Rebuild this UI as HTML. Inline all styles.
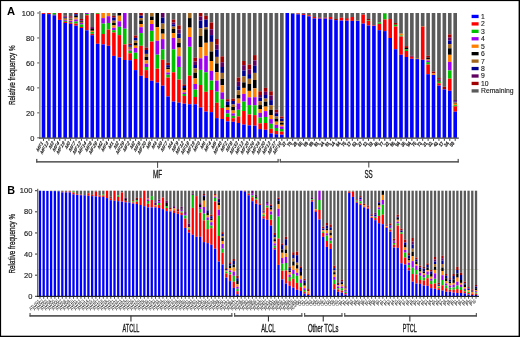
<!DOCTYPE html>
<html><head><meta charset="utf-8"><style>
html,body{margin:0;padding:0;background:#fff;}
body{width:520px;height:337px;overflow:hidden;}
svg{display:block;font-family:"Liberation Sans", sans-serif;}
</style></head><body>
<svg style="will-change:transform" width="520" height="337" viewBox="0 0 520 337">
<rect x="0" y="0" width="520" height="337" fill="#fff"/>
<text x="7.00" y="15.20" font-size="11.2" font-weight="bold" text-anchor="start" fill="#000" >A</text>
<text transform="translate(14.8,75.2) rotate(-90) scale(0.67,1)" font-size="9.4" text-anchor="middle" fill="#1a1a1a" stroke="#1a1a1a" stroke-width="0.3">Relative frequency %</text>
<text transform="translate(34.40,140.60) scale(0.94,1)" x="0" y="0" font-size="8.0" font-weight="normal" text-anchor="end" fill="#1a1a1a" stroke="#1a1a1a" stroke-width="0.15">0</text>
<rect x="37.2" y="137.30" width="2.3" height="1" fill="#555"/>
<text transform="translate(34.40,115.64) scale(0.94,1)" x="0" y="0" font-size="8.0" font-weight="normal" text-anchor="end" fill="#1a1a1a" stroke="#1a1a1a" stroke-width="0.15">20</text>
<rect x="37.2" y="112.34" width="2.3" height="1" fill="#555"/>
<text transform="translate(34.40,90.68) scale(0.94,1)" x="0" y="0" font-size="8.0" font-weight="normal" text-anchor="end" fill="#1a1a1a" stroke="#1a1a1a" stroke-width="0.15">40</text>
<rect x="37.2" y="87.38" width="2.3" height="1" fill="#555"/>
<text transform="translate(34.40,65.72) scale(0.94,1)" x="0" y="0" font-size="8.0" font-weight="normal" text-anchor="end" fill="#1a1a1a" stroke="#1a1a1a" stroke-width="0.15">60</text>
<rect x="37.2" y="62.42" width="2.3" height="1" fill="#555"/>
<text transform="translate(34.40,40.76) scale(0.94,1)" x="0" y="0" font-size="8.0" font-weight="normal" text-anchor="end" fill="#1a1a1a" stroke="#1a1a1a" stroke-width="0.15">80</text>
<rect x="37.2" y="37.46" width="2.3" height="1" fill="#555"/>
<text transform="translate(34.40,15.80) scale(0.94,1)" x="0" y="0" font-size="8.0" font-weight="normal" text-anchor="end" fill="#1a1a1a" stroke="#1a1a1a" stroke-width="0.15">100</text>
<rect x="37.2" y="12.50" width="2.3" height="1" fill="#555"/>
<rect x="40.5" y="106.0" width="418" height="0.7" fill="#d0d0b8"/>
<rect x="41.69" y="13.00" width="3.62" height="0.90" fill="#ff0000"/>
<rect x="41.69" y="13.90" width="3.62" height="123.90" fill="#0000ff"/>
<rect x="47.11" y="13.00" width="3.62" height="1.10" fill="#ff0000"/>
<rect x="47.11" y="14.10" width="3.62" height="123.70" fill="#0000ff"/>
<rect x="52.52" y="13.00" width="3.62" height="1.60" fill="#00c000"/>
<rect x="52.52" y="14.60" width="3.62" height="0.80" fill="#600060"/>
<rect x="52.52" y="15.40" width="3.62" height="122.40" fill="#0000ff"/>
<rect x="57.94" y="13.00" width="3.62" height="6.90" fill="#ff0000"/>
<rect x="57.94" y="19.90" width="3.62" height="117.90" fill="#0000ff"/>
<rect x="63.36" y="13.00" width="3.62" height="2.80" fill="#5a5a5a"/>
<rect x="63.36" y="15.80" width="3.62" height="0.80" fill="#a00000"/>
<rect x="63.36" y="16.60" width="3.62" height="0.70" fill="#600060"/>
<rect x="63.36" y="17.30" width="3.62" height="0.70" fill="#000090"/>
<rect x="63.36" y="18.00" width="3.62" height="0.80" fill="#a0661e"/>
<rect x="63.36" y="18.80" width="3.62" height="0.70" fill="#000000"/>
<rect x="63.36" y="19.50" width="3.62" height="0.70" fill="#ff8000"/>
<rect x="63.36" y="20.20" width="3.62" height="0.80" fill="#a000f0"/>
<rect x="63.36" y="21.00" width="3.62" height="0.90" fill="#00c000"/>
<rect x="63.36" y="21.90" width="3.62" height="1.10" fill="#ff0000"/>
<rect x="63.36" y="23.00" width="3.62" height="114.80" fill="#0000ff"/>
<rect x="68.78" y="13.00" width="3.62" height="3.30" fill="#5a5a5a"/>
<rect x="68.78" y="16.30" width="3.62" height="1.20" fill="#a00000"/>
<rect x="68.78" y="17.50" width="3.62" height="1.00" fill="#600060"/>
<rect x="68.78" y="18.50" width="3.62" height="1.00" fill="#a0661e"/>
<rect x="68.78" y="19.50" width="3.62" height="0.80" fill="#000000"/>
<rect x="68.78" y="20.30" width="3.62" height="0.70" fill="#ff8000"/>
<rect x="68.78" y="21.00" width="3.62" height="1.00" fill="#a000f0"/>
<rect x="68.78" y="22.00" width="3.62" height="0.80" fill="#00c000"/>
<rect x="68.78" y="22.80" width="3.62" height="1.10" fill="#ff0000"/>
<rect x="68.78" y="23.90" width="3.62" height="113.90" fill="#0000ff"/>
<rect x="74.19" y="13.00" width="3.62" height="1.20" fill="#a00000"/>
<rect x="74.19" y="14.20" width="3.62" height="1.60" fill="#000090"/>
<rect x="74.19" y="15.80" width="3.62" height="1.40" fill="#000000"/>
<rect x="74.19" y="17.20" width="3.62" height="1.00" fill="#a0661e"/>
<rect x="74.19" y="18.20" width="3.62" height="1.30" fill="#ff8000"/>
<rect x="74.19" y="19.50" width="3.62" height="2.00" fill="#a000f0"/>
<rect x="74.19" y="21.50" width="3.62" height="2.10" fill="#00c000"/>
<rect x="74.19" y="23.60" width="3.62" height="2.10" fill="#ff0000"/>
<rect x="74.19" y="25.70" width="3.62" height="112.10" fill="#0000ff"/>
<rect x="79.61" y="13.00" width="3.62" height="6.00" fill="#5a5a5a"/>
<rect x="79.61" y="19.00" width="3.62" height="1.30" fill="#a00000"/>
<rect x="79.61" y="20.30" width="3.62" height="1.00" fill="#600060"/>
<rect x="79.61" y="21.30" width="3.62" height="0.70" fill="#000000"/>
<rect x="79.61" y="22.00" width="3.62" height="1.00" fill="#a0661e"/>
<rect x="79.61" y="23.00" width="3.62" height="1.40" fill="#a000f0"/>
<rect x="79.61" y="24.40" width="3.62" height="2.60" fill="#00c000"/>
<rect x="79.61" y="27.00" width="3.62" height="1.00" fill="#ff0000"/>
<rect x="79.61" y="28.00" width="3.62" height="109.80" fill="#0000ff"/>
<rect x="85.03" y="13.00" width="3.62" height="1.00" fill="#a000f0"/>
<rect x="85.03" y="14.00" width="3.62" height="1.20" fill="#00c000"/>
<rect x="85.03" y="15.20" width="3.62" height="15.10" fill="#ff0000"/>
<rect x="85.03" y="30.30" width="3.62" height="107.50" fill="#0000ff"/>
<rect x="90.44" y="13.00" width="3.62" height="14.10" fill="#5a5a5a"/>
<rect x="90.44" y="27.10" width="3.62" height="1.90" fill="#600060"/>
<rect x="90.44" y="29.00" width="3.62" height="1.80" fill="#000000"/>
<rect x="90.44" y="30.80" width="3.62" height="1.20" fill="#ff8000"/>
<rect x="90.44" y="32.00" width="3.62" height="1.80" fill="#00c000"/>
<rect x="90.44" y="33.80" width="3.62" height="1.40" fill="#ff0000"/>
<rect x="90.44" y="35.20" width="3.62" height="102.60" fill="#0000ff"/>
<rect x="95.86" y="13.00" width="3.62" height="0.80" fill="#00c000"/>
<rect x="95.86" y="13.80" width="3.62" height="30.00" fill="#ff0000"/>
<rect x="95.86" y="43.80" width="3.62" height="94.00" fill="#0000ff"/>
<rect x="101.28" y="13.00" width="3.62" height="5.10" fill="#ff8000"/>
<rect x="101.28" y="18.10" width="3.62" height="5.50" fill="#a000f0"/>
<rect x="101.28" y="23.60" width="3.62" height="10.40" fill="#00c000"/>
<rect x="101.28" y="34.00" width="3.62" height="10.40" fill="#ff0000"/>
<rect x="101.28" y="44.40" width="3.62" height="93.40" fill="#0000ff"/>
<rect x="106.69" y="13.00" width="3.62" height="3.20" fill="#ff8000"/>
<rect x="106.69" y="16.20" width="3.62" height="6.80" fill="#a000f0"/>
<rect x="106.69" y="23.00" width="3.62" height="6.60" fill="#00c000"/>
<rect x="106.69" y="29.60" width="3.62" height="16.20" fill="#ff0000"/>
<rect x="106.69" y="45.80" width="3.62" height="92.00" fill="#0000ff"/>
<rect x="112.11" y="13.00" width="3.62" height="2.90" fill="#5a5a5a"/>
<rect x="112.11" y="15.90" width="3.62" height="1.70" fill="#a00000"/>
<rect x="112.11" y="17.60" width="3.62" height="3.10" fill="#000090"/>
<rect x="112.11" y="20.70" width="3.62" height="2.30" fill="#a0661e"/>
<rect x="112.11" y="23.00" width="3.62" height="2.40" fill="#000000"/>
<rect x="112.11" y="25.40" width="3.62" height="2.40" fill="#ff8000"/>
<rect x="112.11" y="27.80" width="3.62" height="2.40" fill="#a000f0"/>
<rect x="112.11" y="30.20" width="3.62" height="2.30" fill="#00c000"/>
<rect x="112.11" y="32.50" width="3.62" height="23.40" fill="#ff0000"/>
<rect x="112.11" y="55.90" width="3.62" height="81.90" fill="#0000ff"/>
<rect x="117.53" y="13.00" width="3.62" height="2.70" fill="#000000"/>
<rect x="117.53" y="15.70" width="3.62" height="5.60" fill="#ff8000"/>
<rect x="117.53" y="21.30" width="3.62" height="5.50" fill="#a000f0"/>
<rect x="117.53" y="26.80" width="3.62" height="8.30" fill="#00c000"/>
<rect x="117.53" y="35.10" width="3.62" height="22.40" fill="#ff0000"/>
<rect x="117.53" y="57.50" width="3.62" height="80.30" fill="#0000ff"/>
<rect x="122.94" y="13.00" width="3.62" height="15.70" fill="#a000f0"/>
<rect x="122.94" y="28.70" width="3.62" height="15.70" fill="#00c000"/>
<rect x="122.94" y="44.40" width="3.62" height="15.60" fill="#ff0000"/>
<rect x="122.94" y="60.00" width="3.62" height="77.80" fill="#0000ff"/>
<rect x="128.36" y="13.00" width="3.62" height="30.80" fill="#5a5a5a"/>
<rect x="128.36" y="43.80" width="3.62" height="1.40" fill="#a00000"/>
<rect x="128.36" y="45.20" width="3.62" height="1.60" fill="#000090"/>
<rect x="128.36" y="46.80" width="3.62" height="1.00" fill="#a0661e"/>
<rect x="128.36" y="47.80" width="3.62" height="0.80" fill="#000000"/>
<rect x="128.36" y="48.60" width="3.62" height="0.90" fill="#ff8000"/>
<rect x="128.36" y="49.50" width="3.62" height="1.20" fill="#a000f0"/>
<rect x="128.36" y="50.70" width="3.62" height="2.60" fill="#00c000"/>
<rect x="128.36" y="53.30" width="3.62" height="6.90" fill="#ff0000"/>
<rect x="128.36" y="60.20" width="3.62" height="77.60" fill="#0000ff"/>
<rect x="133.78" y="13.00" width="3.62" height="22.50" fill="#5a5a5a"/>
<rect x="133.78" y="35.50" width="3.62" height="2.40" fill="#a00000"/>
<rect x="133.78" y="37.90" width="3.62" height="2.70" fill="#000090"/>
<rect x="133.78" y="40.60" width="3.62" height="2.40" fill="#a0661e"/>
<rect x="133.78" y="43.00" width="3.62" height="2.60" fill="#000000"/>
<rect x="133.78" y="45.60" width="3.62" height="2.40" fill="#ff8000"/>
<rect x="133.78" y="48.00" width="3.62" height="4.70" fill="#a000f0"/>
<rect x="133.78" y="52.70" width="3.62" height="6.30" fill="#00c000"/>
<rect x="133.78" y="59.00" width="3.62" height="11.10" fill="#ff0000"/>
<rect x="133.78" y="70.10" width="3.62" height="67.70" fill="#0000ff"/>
<rect x="139.20" y="13.00" width="3.62" height="2.70" fill="#a00000"/>
<rect x="139.20" y="15.70" width="3.62" height="2.40" fill="#000090"/>
<rect x="139.20" y="18.10" width="3.62" height="2.30" fill="#a0661e"/>
<rect x="139.20" y="20.40" width="3.62" height="3.60" fill="#000000"/>
<rect x="139.20" y="24.00" width="3.62" height="3.20" fill="#ff8000"/>
<rect x="139.20" y="27.20" width="3.62" height="5.90" fill="#a000f0"/>
<rect x="139.20" y="33.10" width="3.62" height="12.70" fill="#00c000"/>
<rect x="139.20" y="45.80" width="3.62" height="30.00" fill="#ff0000"/>
<rect x="139.20" y="75.80" width="3.62" height="62.00" fill="#0000ff"/>
<rect x="144.61" y="13.00" width="3.62" height="34.70" fill="#5a5a5a"/>
<rect x="144.61" y="47.70" width="3.62" height="2.30" fill="#a00000"/>
<rect x="144.61" y="50.00" width="3.62" height="3.90" fill="#000090"/>
<rect x="144.61" y="53.90" width="3.62" height="3.00" fill="#a0661e"/>
<rect x="144.61" y="56.90" width="3.62" height="3.50" fill="#000000"/>
<rect x="144.61" y="60.40" width="3.62" height="3.30" fill="#ff8000"/>
<rect x="144.61" y="63.70" width="3.62" height="3.30" fill="#a000f0"/>
<rect x="144.61" y="67.00" width="3.62" height="3.10" fill="#00c000"/>
<rect x="144.61" y="70.10" width="3.62" height="7.90" fill="#ff0000"/>
<rect x="144.61" y="78.00" width="3.62" height="59.80" fill="#0000ff"/>
<rect x="150.03" y="13.00" width="3.62" height="3.50" fill="#a0661e"/>
<rect x="150.03" y="16.50" width="3.62" height="3.60" fill="#000000"/>
<rect x="150.03" y="20.10" width="3.62" height="3.90" fill="#ff8000"/>
<rect x="150.03" y="24.00" width="3.62" height="6.80" fill="#a000f0"/>
<rect x="150.03" y="30.80" width="3.62" height="10.80" fill="#00c000"/>
<rect x="150.03" y="41.60" width="3.62" height="39.20" fill="#ff0000"/>
<rect x="150.03" y="80.80" width="3.62" height="57.00" fill="#0000ff"/>
<rect x="155.45" y="13.00" width="3.62" height="14.20" fill="#000000"/>
<rect x="155.45" y="27.20" width="3.62" height="13.60" fill="#ff8000"/>
<rect x="155.45" y="40.80" width="3.62" height="13.90" fill="#a000f0"/>
<rect x="155.45" y="54.70" width="3.62" height="14.00" fill="#00c000"/>
<rect x="155.45" y="68.70" width="3.62" height="13.90" fill="#ff0000"/>
<rect x="155.45" y="82.60" width="3.62" height="55.20" fill="#0000ff"/>
<rect x="160.86" y="13.00" width="3.62" height="4.70" fill="#600060"/>
<rect x="160.86" y="17.70" width="3.62" height="5.90" fill="#000090"/>
<rect x="160.86" y="23.60" width="3.62" height="5.40" fill="#a0661e"/>
<rect x="160.86" y="29.00" width="3.62" height="4.70" fill="#000000"/>
<rect x="160.86" y="33.70" width="3.62" height="5.40" fill="#ff8000"/>
<rect x="160.86" y="39.10" width="3.62" height="10.40" fill="#a000f0"/>
<rect x="160.86" y="49.50" width="3.62" height="10.30" fill="#00c000"/>
<rect x="160.86" y="59.80" width="3.62" height="25.90" fill="#ff0000"/>
<rect x="160.86" y="85.70" width="3.62" height="52.10" fill="#0000ff"/>
<rect x="166.28" y="13.00" width="3.62" height="49.80" fill="#5a5a5a"/>
<rect x="166.28" y="62.80" width="3.62" height="2.40" fill="#a00000"/>
<rect x="166.28" y="65.20" width="3.62" height="2.30" fill="#000090"/>
<rect x="166.28" y="67.50" width="3.62" height="1.80" fill="#000000"/>
<rect x="166.28" y="69.30" width="3.62" height="3.20" fill="#ff8000"/>
<rect x="166.28" y="72.50" width="3.62" height="2.20" fill="#a000f0"/>
<rect x="166.28" y="74.70" width="3.62" height="2.90" fill="#00c000"/>
<rect x="166.28" y="77.60" width="3.62" height="18.80" fill="#ff0000"/>
<rect x="166.28" y="96.40" width="3.62" height="41.40" fill="#0000ff"/>
<rect x="171.70" y="13.00" width="3.62" height="6.70" fill="#5a5a5a"/>
<rect x="171.70" y="19.70" width="3.62" height="2.80" fill="#a00000"/>
<rect x="171.70" y="22.50" width="3.62" height="1.80" fill="#600060"/>
<rect x="171.70" y="24.30" width="3.62" height="2.30" fill="#000090"/>
<rect x="171.70" y="26.60" width="3.62" height="2.40" fill="#a0661e"/>
<rect x="171.70" y="29.00" width="3.62" height="4.10" fill="#000000"/>
<rect x="171.70" y="33.10" width="3.62" height="4.80" fill="#ff8000"/>
<rect x="171.70" y="37.90" width="3.62" height="11.50" fill="#a000f0"/>
<rect x="171.70" y="49.40" width="3.62" height="22.90" fill="#00c000"/>
<rect x="171.70" y="72.30" width="3.62" height="29.30" fill="#ff0000"/>
<rect x="171.70" y="101.60" width="3.62" height="36.20" fill="#0000ff"/>
<rect x="177.11" y="13.00" width="3.62" height="12.40" fill="#5a5a5a"/>
<rect x="177.11" y="25.40" width="3.62" height="4.20" fill="#a00000"/>
<rect x="177.11" y="29.60" width="3.62" height="3.90" fill="#600060"/>
<rect x="177.11" y="33.50" width="3.62" height="4.70" fill="#000090"/>
<rect x="177.11" y="38.20" width="3.62" height="4.80" fill="#a0661e"/>
<rect x="177.11" y="43.00" width="3.62" height="4.60" fill="#000000"/>
<rect x="177.11" y="47.60" width="3.62" height="8.70" fill="#ff8000"/>
<rect x="177.11" y="56.30" width="3.62" height="10.70" fill="#a000f0"/>
<rect x="177.11" y="67.00" width="3.62" height="12.60" fill="#00c000"/>
<rect x="177.11" y="79.60" width="3.62" height="23.10" fill="#ff0000"/>
<rect x="177.11" y="102.70" width="3.62" height="35.10" fill="#0000ff"/>
<rect x="182.53" y="13.00" width="3.62" height="71.30" fill="#5a5a5a"/>
<rect x="182.53" y="84.30" width="3.62" height="1.70" fill="#a00000"/>
<rect x="182.53" y="86.00" width="3.62" height="2.00" fill="#000090"/>
<rect x="182.53" y="88.00" width="3.62" height="2.00" fill="#000000"/>
<rect x="182.53" y="90.00" width="3.62" height="2.50" fill="#ff8000"/>
<rect x="182.53" y="92.50" width="3.62" height="1.50" fill="#a000f0"/>
<rect x="182.53" y="94.00" width="3.62" height="2.00" fill="#00c000"/>
<rect x="182.53" y="96.00" width="3.62" height="7.70" fill="#ff0000"/>
<rect x="182.53" y="103.70" width="3.62" height="34.10" fill="#0000ff"/>
<rect x="187.95" y="13.00" width="3.62" height="5.10" fill="#a0661e"/>
<rect x="187.95" y="18.10" width="3.62" height="9.50" fill="#000000"/>
<rect x="187.95" y="27.60" width="3.62" height="9.40" fill="#ff8000"/>
<rect x="187.95" y="37.00" width="3.62" height="9.80" fill="#a000f0"/>
<rect x="187.95" y="46.80" width="3.62" height="28.90" fill="#00c000"/>
<rect x="187.95" y="75.70" width="3.62" height="28.60" fill="#ff0000"/>
<rect x="187.95" y="104.30" width="3.62" height="33.50" fill="#0000ff"/>
<rect x="193.37" y="13.00" width="3.62" height="44.80" fill="#5a5a5a"/>
<rect x="193.37" y="57.80" width="3.62" height="3.60" fill="#a00000"/>
<rect x="193.37" y="61.40" width="3.62" height="3.60" fill="#600060"/>
<rect x="193.37" y="65.00" width="3.62" height="3.30" fill="#000090"/>
<rect x="193.37" y="68.30" width="3.62" height="4.40" fill="#a0661e"/>
<rect x="193.37" y="72.70" width="3.62" height="5.70" fill="#000000"/>
<rect x="193.37" y="78.40" width="3.62" height="5.60" fill="#ff8000"/>
<rect x="193.37" y="84.00" width="3.62" height="5.60" fill="#a000f0"/>
<rect x="193.37" y="89.60" width="3.62" height="7.40" fill="#00c000"/>
<rect x="193.37" y="97.00" width="3.62" height="7.30" fill="#ff0000"/>
<rect x="193.37" y="104.30" width="3.62" height="33.50" fill="#0000ff"/>
<rect x="198.78" y="13.00" width="3.62" height="3.50" fill="#a00000"/>
<rect x="198.78" y="16.50" width="3.62" height="4.10" fill="#600060"/>
<rect x="198.78" y="20.60" width="3.62" height="7.70" fill="#000090"/>
<rect x="198.78" y="28.30" width="3.62" height="7.70" fill="#a0661e"/>
<rect x="198.78" y="36.00" width="3.62" height="11.00" fill="#000000"/>
<rect x="198.78" y="47.00" width="3.62" height="11.30" fill="#ff8000"/>
<rect x="198.78" y="58.30" width="3.62" height="11.60" fill="#a000f0"/>
<rect x="198.78" y="69.90" width="3.62" height="15.10" fill="#00c000"/>
<rect x="198.78" y="85.00" width="3.62" height="22.50" fill="#ff0000"/>
<rect x="198.78" y="107.50" width="3.62" height="30.30" fill="#0000ff"/>
<rect x="204.20" y="13.00" width="3.62" height="2.80" fill="#5a5a5a"/>
<rect x="204.20" y="15.80" width="3.62" height="3.90" fill="#a00000"/>
<rect x="204.20" y="19.70" width="3.62" height="7.70" fill="#000090"/>
<rect x="204.20" y="27.40" width="3.62" height="1.90" fill="#a0661e"/>
<rect x="204.20" y="29.30" width="3.62" height="13.50" fill="#000000"/>
<rect x="204.20" y="42.80" width="3.62" height="13.00" fill="#ff8000"/>
<rect x="204.20" y="55.80" width="3.62" height="16.50" fill="#a000f0"/>
<rect x="204.20" y="72.30" width="3.62" height="19.50" fill="#00c000"/>
<rect x="204.20" y="91.80" width="3.62" height="19.80" fill="#ff0000"/>
<rect x="204.20" y="111.60" width="3.62" height="26.20" fill="#0000ff"/>
<rect x="209.62" y="13.00" width="3.62" height="9.50" fill="#5a5a5a"/>
<rect x="209.62" y="22.50" width="3.62" height="6.80" fill="#a00000"/>
<rect x="209.62" y="29.30" width="3.62" height="5.80" fill="#600060"/>
<rect x="209.62" y="35.10" width="3.62" height="6.80" fill="#000090"/>
<rect x="209.62" y="41.90" width="3.62" height="9.60" fill="#a0661e"/>
<rect x="209.62" y="51.50" width="3.62" height="9.50" fill="#000000"/>
<rect x="209.62" y="61.00" width="3.62" height="9.90" fill="#ff8000"/>
<rect x="209.62" y="70.90" width="3.62" height="9.70" fill="#a000f0"/>
<rect x="209.62" y="80.60" width="3.62" height="9.40" fill="#00c000"/>
<rect x="209.62" y="90.00" width="3.62" height="22.10" fill="#ff0000"/>
<rect x="209.62" y="112.10" width="3.62" height="25.70" fill="#0000ff"/>
<rect x="215.03" y="13.00" width="3.62" height="26.00" fill="#5a5a5a"/>
<rect x="215.03" y="39.00" width="3.62" height="5.70" fill="#a00000"/>
<rect x="215.03" y="44.70" width="3.62" height="5.00" fill="#600060"/>
<rect x="215.03" y="49.70" width="3.62" height="7.20" fill="#000090"/>
<rect x="215.03" y="56.90" width="3.62" height="6.50" fill="#a0661e"/>
<rect x="215.03" y="63.40" width="3.62" height="8.90" fill="#000000"/>
<rect x="215.03" y="72.30" width="3.62" height="8.30" fill="#ff8000"/>
<rect x="215.03" y="80.60" width="3.62" height="11.10" fill="#a000f0"/>
<rect x="215.03" y="91.70" width="3.62" height="11.10" fill="#00c000"/>
<rect x="215.03" y="102.80" width="3.62" height="15.30" fill="#ff0000"/>
<rect x="215.03" y="118.10" width="3.62" height="19.70" fill="#0000ff"/>
<rect x="220.45" y="13.00" width="3.62" height="43.30" fill="#5a5a5a"/>
<rect x="220.45" y="56.30" width="3.62" height="5.90" fill="#a00000"/>
<rect x="220.45" y="62.20" width="3.62" height="4.80" fill="#600060"/>
<rect x="220.45" y="67.00" width="3.62" height="5.90" fill="#000090"/>
<rect x="220.45" y="72.90" width="3.62" height="5.90" fill="#a0661e"/>
<rect x="220.45" y="78.80" width="3.62" height="6.50" fill="#000000"/>
<rect x="220.45" y="85.30" width="3.62" height="7.10" fill="#ff8000"/>
<rect x="220.45" y="92.40" width="3.62" height="6.80" fill="#a000f0"/>
<rect x="220.45" y="99.20" width="3.62" height="8.80" fill="#00c000"/>
<rect x="220.45" y="108.00" width="3.62" height="11.00" fill="#ff0000"/>
<rect x="220.45" y="119.00" width="3.62" height="18.80" fill="#0000ff"/>
<rect x="225.87" y="13.00" width="3.62" height="86.20" fill="#5a5a5a"/>
<rect x="225.87" y="99.20" width="3.62" height="2.40" fill="#a00000"/>
<rect x="225.87" y="101.60" width="3.62" height="3.40" fill="#000090"/>
<rect x="225.87" y="105.00" width="3.62" height="2.50" fill="#000000"/>
<rect x="225.87" y="107.50" width="3.62" height="2.50" fill="#ff8000"/>
<rect x="225.87" y="110.00" width="3.62" height="3.50" fill="#a000f0"/>
<rect x="225.87" y="113.50" width="3.62" height="3.50" fill="#00c000"/>
<rect x="225.87" y="117.00" width="3.62" height="4.40" fill="#ff0000"/>
<rect x="225.87" y="121.40" width="3.62" height="16.40" fill="#0000ff"/>
<rect x="231.28" y="13.00" width="3.62" height="85.60" fill="#5a5a5a"/>
<rect x="231.28" y="98.60" width="3.62" height="2.40" fill="#a00000"/>
<rect x="231.28" y="101.00" width="3.62" height="3.50" fill="#000090"/>
<rect x="231.28" y="104.50" width="3.62" height="2.50" fill="#a0661e"/>
<rect x="231.28" y="107.00" width="3.62" height="3.50" fill="#000000"/>
<rect x="231.28" y="110.50" width="3.62" height="2.90" fill="#ff8000"/>
<rect x="231.28" y="113.40" width="3.62" height="2.40" fill="#a000f0"/>
<rect x="231.28" y="115.80" width="3.62" height="2.40" fill="#00c000"/>
<rect x="231.28" y="118.20" width="3.62" height="3.60" fill="#ff0000"/>
<rect x="231.28" y="121.80" width="3.62" height="16.00" fill="#0000ff"/>
<rect x="236.70" y="13.00" width="3.62" height="64.60" fill="#5a5a5a"/>
<rect x="236.70" y="77.60" width="3.62" height="4.20" fill="#a00000"/>
<rect x="236.70" y="81.80" width="3.62" height="4.40" fill="#600060"/>
<rect x="236.70" y="86.20" width="3.62" height="4.10" fill="#000090"/>
<rect x="236.70" y="90.30" width="3.62" height="4.70" fill="#a0661e"/>
<rect x="236.70" y="95.00" width="3.62" height="3.60" fill="#000000"/>
<rect x="236.70" y="98.60" width="3.62" height="4.80" fill="#ff8000"/>
<rect x="236.70" y="103.40" width="3.62" height="6.40" fill="#a000f0"/>
<rect x="236.70" y="109.80" width="3.62" height="6.70" fill="#00c000"/>
<rect x="236.70" y="116.50" width="3.62" height="6.50" fill="#ff0000"/>
<rect x="236.70" y="123.00" width="3.62" height="14.80" fill="#0000ff"/>
<rect x="242.12" y="13.00" width="3.62" height="48.00" fill="#5a5a5a"/>
<rect x="242.12" y="61.00" width="3.62" height="4.20" fill="#a00000"/>
<rect x="242.12" y="65.20" width="3.62" height="5.30" fill="#600060"/>
<rect x="242.12" y="70.50" width="3.62" height="5.90" fill="#000090"/>
<rect x="242.12" y="76.40" width="3.62" height="6.00" fill="#a0661e"/>
<rect x="242.12" y="82.40" width="3.62" height="5.50" fill="#000000"/>
<rect x="242.12" y="87.90" width="3.62" height="6.00" fill="#ff8000"/>
<rect x="242.12" y="93.90" width="3.62" height="7.70" fill="#a000f0"/>
<rect x="242.12" y="101.60" width="3.62" height="9.40" fill="#00c000"/>
<rect x="242.12" y="111.00" width="3.62" height="13.60" fill="#ff0000"/>
<rect x="242.12" y="124.60" width="3.62" height="13.20" fill="#0000ff"/>
<rect x="247.54" y="13.00" width="3.62" height="51.60" fill="#5a5a5a"/>
<rect x="247.54" y="64.60" width="3.62" height="4.70" fill="#a00000"/>
<rect x="247.54" y="69.30" width="3.62" height="4.80" fill="#600060"/>
<rect x="247.54" y="74.10" width="3.62" height="4.70" fill="#000090"/>
<rect x="247.54" y="78.80" width="3.62" height="5.20" fill="#a0661e"/>
<rect x="247.54" y="84.00" width="3.62" height="6.90" fill="#000000"/>
<rect x="247.54" y="90.90" width="3.62" height="6.50" fill="#ff8000"/>
<rect x="247.54" y="97.40" width="3.62" height="7.70" fill="#a000f0"/>
<rect x="247.54" y="105.10" width="3.62" height="9.40" fill="#00c000"/>
<rect x="247.54" y="114.50" width="3.62" height="10.90" fill="#ff0000"/>
<rect x="247.54" y="125.40" width="3.62" height="12.40" fill="#0000ff"/>
<rect x="252.95" y="13.00" width="3.62" height="42.10" fill="#5a5a5a"/>
<rect x="252.95" y="55.10" width="3.62" height="5.30" fill="#a00000"/>
<rect x="252.95" y="60.40" width="3.62" height="5.40" fill="#600060"/>
<rect x="252.95" y="65.80" width="3.62" height="7.10" fill="#000090"/>
<rect x="252.95" y="72.90" width="3.62" height="7.10" fill="#a0661e"/>
<rect x="252.95" y="80.00" width="3.62" height="8.30" fill="#000000"/>
<rect x="252.95" y="88.30" width="3.62" height="8.90" fill="#ff8000"/>
<rect x="252.95" y="97.20" width="3.62" height="8.00" fill="#a000f0"/>
<rect x="252.95" y="105.20" width="3.62" height="9.90" fill="#00c000"/>
<rect x="252.95" y="115.10" width="3.62" height="10.60" fill="#ff0000"/>
<rect x="252.95" y="125.70" width="3.62" height="12.10" fill="#0000ff"/>
<rect x="258.37" y="13.00" width="3.62" height="78.30" fill="#5a5a5a"/>
<rect x="258.37" y="91.30" width="3.62" height="3.70" fill="#a00000"/>
<rect x="258.37" y="95.00" width="3.62" height="2.70" fill="#600060"/>
<rect x="258.37" y="97.70" width="3.62" height="3.50" fill="#000090"/>
<rect x="258.37" y="101.20" width="3.62" height="3.90" fill="#a0661e"/>
<rect x="258.37" y="105.10" width="3.62" height="3.90" fill="#000000"/>
<rect x="258.37" y="109.00" width="3.62" height="3.90" fill="#ff8000"/>
<rect x="258.37" y="112.90" width="3.62" height="4.70" fill="#a000f0"/>
<rect x="258.37" y="117.60" width="3.62" height="5.70" fill="#00c000"/>
<rect x="258.37" y="123.30" width="3.62" height="5.80" fill="#ff0000"/>
<rect x="258.37" y="129.10" width="3.62" height="8.70" fill="#0000ff"/>
<rect x="263.79" y="13.00" width="3.62" height="74.90" fill="#5a5a5a"/>
<rect x="263.79" y="87.90" width="3.62" height="3.90" fill="#a00000"/>
<rect x="263.79" y="91.80" width="3.62" height="3.20" fill="#600060"/>
<rect x="263.79" y="95.00" width="3.62" height="3.60" fill="#000090"/>
<rect x="263.79" y="98.60" width="3.62" height="3.10" fill="#a0661e"/>
<rect x="263.79" y="101.70" width="3.62" height="4.90" fill="#000000"/>
<rect x="263.79" y="106.60" width="3.62" height="4.50" fill="#ff8000"/>
<rect x="263.79" y="111.10" width="3.62" height="5.90" fill="#a000f0"/>
<rect x="263.79" y="117.00" width="3.62" height="6.00" fill="#00c000"/>
<rect x="263.79" y="123.00" width="3.62" height="6.80" fill="#ff0000"/>
<rect x="263.79" y="129.80" width="3.62" height="8.00" fill="#0000ff"/>
<rect x="269.20" y="13.00" width="3.62" height="78.30" fill="#5a5a5a"/>
<rect x="269.20" y="91.30" width="3.62" height="4.20" fill="#a00000"/>
<rect x="269.20" y="95.50" width="3.62" height="4.60" fill="#600060"/>
<rect x="269.20" y="100.10" width="3.62" height="5.20" fill="#000090"/>
<rect x="269.20" y="105.30" width="3.62" height="4.50" fill="#a0661e"/>
<rect x="269.20" y="109.80" width="3.62" height="5.20" fill="#000000"/>
<rect x="269.20" y="115.00" width="3.62" height="4.10" fill="#ff8000"/>
<rect x="269.20" y="119.10" width="3.62" height="4.70" fill="#a000f0"/>
<rect x="269.20" y="123.80" width="3.62" height="5.00" fill="#00c000"/>
<rect x="269.20" y="128.80" width="3.62" height="4.60" fill="#ff0000"/>
<rect x="269.20" y="133.40" width="3.62" height="4.40" fill="#0000ff"/>
<rect x="274.62" y="13.00" width="3.62" height="96.80" fill="#5a5a5a"/>
<rect x="274.62" y="109.80" width="3.62" height="2.60" fill="#a00000"/>
<rect x="274.62" y="112.40" width="3.62" height="1.60" fill="#600060"/>
<rect x="274.62" y="114.00" width="3.62" height="2.50" fill="#000090"/>
<rect x="274.62" y="116.50" width="3.62" height="2.10" fill="#a0661e"/>
<rect x="274.62" y="118.60" width="3.62" height="3.10" fill="#000000"/>
<rect x="274.62" y="121.70" width="3.62" height="3.10" fill="#ff8000"/>
<rect x="274.62" y="124.80" width="3.62" height="3.20" fill="#a000f0"/>
<rect x="274.62" y="128.00" width="3.62" height="3.00" fill="#00c000"/>
<rect x="274.62" y="131.00" width="3.62" height="3.20" fill="#ff0000"/>
<rect x="274.62" y="134.20" width="3.62" height="3.60" fill="#0000ff"/>
<rect x="280.04" y="13.00" width="3.62" height="103.50" fill="#5a5a5a"/>
<rect x="280.04" y="116.50" width="3.62" height="2.10" fill="#a00000"/>
<rect x="280.04" y="118.60" width="3.62" height="2.40" fill="#000090"/>
<rect x="280.04" y="121.00" width="3.62" height="1.80" fill="#a0661e"/>
<rect x="280.04" y="122.80" width="3.62" height="2.00" fill="#000000"/>
<rect x="280.04" y="124.80" width="3.62" height="1.70" fill="#ff8000"/>
<rect x="280.04" y="126.50" width="3.62" height="2.50" fill="#a000f0"/>
<rect x="280.04" y="129.00" width="3.62" height="2.60" fill="#00c000"/>
<rect x="280.04" y="131.60" width="3.62" height="3.10" fill="#ff0000"/>
<rect x="280.04" y="134.70" width="3.62" height="3.10" fill="#0000ff"/>
<rect x="285.45" y="13.00" width="3.62" height="124.80" fill="#0000ff"/>
<rect x="290.87" y="13.00" width="3.62" height="0.80" fill="#5a5a5a"/>
<rect x="290.87" y="13.80" width="3.62" height="124.00" fill="#0000ff"/>
<rect x="296.29" y="13.00" width="3.62" height="0.60" fill="#5a5a5a"/>
<rect x="296.29" y="13.60" width="3.62" height="0.70" fill="#ff0000"/>
<rect x="296.29" y="14.30" width="3.62" height="123.50" fill="#0000ff"/>
<rect x="301.71" y="13.00" width="3.62" height="0.90" fill="#5a5a5a"/>
<rect x="301.71" y="13.90" width="3.62" height="1.00" fill="#ff0000"/>
<rect x="301.71" y="14.90" width="3.62" height="122.90" fill="#0000ff"/>
<rect x="307.12" y="13.00" width="3.62" height="2.20" fill="#5a5a5a"/>
<rect x="307.12" y="15.20" width="3.62" height="1.10" fill="#ff0000"/>
<rect x="307.12" y="16.30" width="3.62" height="121.50" fill="#0000ff"/>
<rect x="312.54" y="13.00" width="3.62" height="4.00" fill="#5a5a5a"/>
<rect x="312.54" y="17.00" width="3.62" height="1.40" fill="#ff0000"/>
<rect x="312.54" y="18.40" width="3.62" height="119.40" fill="#0000ff"/>
<rect x="317.96" y="13.00" width="3.62" height="4.80" fill="#5a5a5a"/>
<rect x="317.96" y="17.80" width="3.62" height="0.80" fill="#ff0000"/>
<rect x="317.96" y="18.60" width="3.62" height="119.20" fill="#0000ff"/>
<rect x="323.37" y="13.00" width="3.62" height="4.80" fill="#5a5a5a"/>
<rect x="323.37" y="17.80" width="3.62" height="0.80" fill="#ff0000"/>
<rect x="323.37" y="18.60" width="3.62" height="119.20" fill="#0000ff"/>
<rect x="328.79" y="13.00" width="3.62" height="4.00" fill="#5a5a5a"/>
<rect x="328.79" y="17.00" width="3.62" height="2.30" fill="#ff0000"/>
<rect x="328.79" y="19.30" width="3.62" height="118.50" fill="#0000ff"/>
<rect x="334.21" y="13.00" width="3.62" height="6.00" fill="#5a5a5a"/>
<rect x="334.21" y="19.00" width="3.62" height="1.10" fill="#a00000"/>
<rect x="334.21" y="20.10" width="3.62" height="117.70" fill="#0000ff"/>
<rect x="339.62" y="13.00" width="3.62" height="4.80" fill="#5a5a5a"/>
<rect x="339.62" y="17.80" width="3.62" height="2.80" fill="#ff0000"/>
<rect x="339.62" y="20.60" width="3.62" height="117.20" fill="#0000ff"/>
<rect x="345.04" y="13.00" width="3.62" height="5.20" fill="#5a5a5a"/>
<rect x="345.04" y="18.20" width="3.62" height="0.80" fill="#a00000"/>
<rect x="345.04" y="19.00" width="3.62" height="1.70" fill="#ff0000"/>
<rect x="345.04" y="20.70" width="3.62" height="117.10" fill="#0000ff"/>
<rect x="350.46" y="13.00" width="3.62" height="4.00" fill="#5a5a5a"/>
<rect x="350.46" y="17.00" width="3.62" height="3.90" fill="#ff0000"/>
<rect x="350.46" y="20.90" width="3.62" height="116.90" fill="#0000ff"/>
<rect x="355.88" y="13.00" width="3.62" height="7.50" fill="#5a5a5a"/>
<rect x="355.88" y="20.50" width="3.62" height="0.40" fill="#a0661e"/>
<rect x="355.88" y="20.90" width="3.62" height="116.90" fill="#0000ff"/>
<rect x="361.29" y="13.00" width="3.62" height="1.70" fill="#5a5a5a"/>
<rect x="361.29" y="14.70" width="3.62" height="8.90" fill="#ff0000"/>
<rect x="361.29" y="23.60" width="3.62" height="114.20" fill="#0000ff"/>
<rect x="366.71" y="13.00" width="3.62" height="6.00" fill="#5a5a5a"/>
<rect x="366.71" y="19.00" width="3.62" height="1.50" fill="#a00000"/>
<rect x="366.71" y="20.50" width="3.62" height="0.50" fill="#00c000"/>
<rect x="366.71" y="21.00" width="3.62" height="4.50" fill="#ff0000"/>
<rect x="366.71" y="25.50" width="3.62" height="112.30" fill="#0000ff"/>
<rect x="372.13" y="13.00" width="3.62" height="12.30" fill="#5a5a5a"/>
<rect x="372.13" y="25.30" width="3.62" height="0.60" fill="#ff0000"/>
<rect x="372.13" y="25.90" width="3.62" height="111.90" fill="#0000ff"/>
<rect x="377.54" y="13.00" width="3.62" height="9.40" fill="#5a5a5a"/>
<rect x="377.54" y="22.40" width="3.62" height="1.50" fill="#00c000"/>
<rect x="377.54" y="23.90" width="3.62" height="6.30" fill="#ff0000"/>
<rect x="377.54" y="30.20" width="3.62" height="107.60" fill="#0000ff"/>
<rect x="382.96" y="13.00" width="3.62" height="0.60" fill="#5a5a5a"/>
<rect x="382.96" y="13.60" width="3.62" height="5.90" fill="#00c000"/>
<rect x="382.96" y="19.50" width="3.62" height="11.60" fill="#ff0000"/>
<rect x="382.96" y="31.10" width="3.62" height="106.70" fill="#0000ff"/>
<rect x="388.38" y="13.00" width="3.62" height="6.00" fill="#5a5a5a"/>
<rect x="388.38" y="19.00" width="3.62" height="19.00" fill="#ff0000"/>
<rect x="388.38" y="38.00" width="3.62" height="99.80" fill="#0000ff"/>
<rect x="393.79" y="13.00" width="3.62" height="10.00" fill="#5a5a5a"/>
<rect x="393.79" y="23.00" width="3.62" height="1.80" fill="#a00000"/>
<rect x="393.79" y="24.80" width="3.62" height="1.70" fill="#00c000"/>
<rect x="393.79" y="26.50" width="3.62" height="22.70" fill="#ff0000"/>
<rect x="393.79" y="49.20" width="3.62" height="88.60" fill="#0000ff"/>
<rect x="399.21" y="13.00" width="3.62" height="20.70" fill="#5a5a5a"/>
<rect x="399.21" y="33.70" width="3.62" height="1.80" fill="#ff8000"/>
<rect x="399.21" y="35.50" width="3.62" height="1.00" fill="#00c000"/>
<rect x="399.21" y="36.50" width="3.62" height="18.30" fill="#ff0000"/>
<rect x="399.21" y="54.80" width="3.62" height="83.00" fill="#0000ff"/>
<rect x="404.63" y="13.00" width="3.62" height="33.10" fill="#5a5a5a"/>
<rect x="404.63" y="46.10" width="3.62" height="1.90" fill="#a00000"/>
<rect x="404.63" y="48.00" width="3.62" height="1.50" fill="#000000"/>
<rect x="404.63" y="49.50" width="3.62" height="1.50" fill="#00c000"/>
<rect x="404.63" y="51.00" width="3.62" height="6.00" fill="#ff0000"/>
<rect x="404.63" y="57.00" width="3.62" height="80.80" fill="#0000ff"/>
<rect x="410.05" y="13.00" width="3.62" height="42.80" fill="#5a5a5a"/>
<rect x="410.05" y="55.80" width="3.62" height="1.00" fill="#600060"/>
<rect x="410.05" y="56.80" width="3.62" height="2.00" fill="#ff0000"/>
<rect x="410.05" y="58.80" width="3.62" height="79.00" fill="#0000ff"/>
<rect x="415.46" y="13.00" width="3.62" height="45.20" fill="#5a5a5a"/>
<rect x="415.46" y="58.20" width="3.62" height="0.90" fill="#a0661e"/>
<rect x="415.46" y="59.10" width="3.62" height="78.70" fill="#0000ff"/>
<rect x="420.88" y="13.00" width="3.62" height="13.00" fill="#5a5a5a"/>
<rect x="420.88" y="26.00" width="3.62" height="0.70" fill="#a0661e"/>
<rect x="420.88" y="26.70" width="3.62" height="33.10" fill="#ff0000"/>
<rect x="420.88" y="59.80" width="3.62" height="78.00" fill="#0000ff"/>
<rect x="426.30" y="13.00" width="3.62" height="42.80" fill="#5a5a5a"/>
<rect x="426.30" y="55.80" width="3.62" height="1.70" fill="#a00000"/>
<rect x="426.30" y="57.50" width="3.62" height="2.00" fill="#000000"/>
<rect x="426.30" y="59.50" width="3.62" height="1.00" fill="#ff8000"/>
<rect x="426.30" y="60.50" width="3.62" height="1.60" fill="#a000f0"/>
<rect x="426.30" y="62.10" width="3.62" height="2.40" fill="#00c000"/>
<rect x="426.30" y="64.50" width="3.62" height="9.70" fill="#ff0000"/>
<rect x="426.30" y="74.20" width="3.62" height="63.60" fill="#0000ff"/>
<rect x="431.71" y="13.00" width="3.62" height="58.60" fill="#5a5a5a"/>
<rect x="431.71" y="71.60" width="3.62" height="1.80" fill="#a00000"/>
<rect x="431.71" y="73.40" width="3.62" height="1.50" fill="#ff8000"/>
<rect x="431.71" y="74.90" width="3.62" height="62.90" fill="#0000ff"/>
<rect x="437.13" y="13.00" width="3.62" height="65.10" fill="#5a5a5a"/>
<rect x="437.13" y="78.10" width="3.62" height="1.20" fill="#a00000"/>
<rect x="437.13" y="79.30" width="3.62" height="1.20" fill="#600060"/>
<rect x="437.13" y="80.50" width="3.62" height="1.20" fill="#000000"/>
<rect x="437.13" y="81.70" width="3.62" height="1.50" fill="#00c000"/>
<rect x="437.13" y="83.20" width="3.62" height="2.40" fill="#ff0000"/>
<rect x="437.13" y="85.60" width="3.62" height="52.20" fill="#0000ff"/>
<rect x="442.55" y="13.00" width="3.62" height="73.80" fill="#5a5a5a"/>
<rect x="442.55" y="86.80" width="3.62" height="2.60" fill="#a00000"/>
<rect x="442.55" y="89.40" width="3.62" height="48.40" fill="#0000ff"/>
<rect x="447.96" y="13.00" width="3.62" height="21.40" fill="#5a5a5a"/>
<rect x="447.96" y="34.40" width="3.62" height="3.20" fill="#a00000"/>
<rect x="447.96" y="37.60" width="3.62" height="2.90" fill="#600060"/>
<rect x="447.96" y="40.50" width="3.62" height="3.60" fill="#000090"/>
<rect x="447.96" y="44.10" width="3.62" height="4.20" fill="#a0661e"/>
<rect x="447.96" y="48.30" width="3.62" height="6.50" fill="#000000"/>
<rect x="447.96" y="54.80" width="3.62" height="7.10" fill="#ff8000"/>
<rect x="447.96" y="61.90" width="3.62" height="8.50" fill="#a000f0"/>
<rect x="447.96" y="70.40" width="3.62" height="8.30" fill="#00c000"/>
<rect x="447.96" y="78.70" width="3.62" height="12.10" fill="#ff0000"/>
<rect x="447.96" y="90.80" width="3.62" height="47.00" fill="#0000ff"/>
<rect x="453.38" y="13.00" width="3.62" height="87.10" fill="#5a5a5a"/>
<rect x="453.38" y="100.10" width="3.62" height="1.40" fill="#600060"/>
<rect x="453.38" y="101.50" width="3.62" height="1.00" fill="#000090"/>
<rect x="453.38" y="102.50" width="3.62" height="1.50" fill="#a0661e"/>
<rect x="453.38" y="104.00" width="3.62" height="1.20" fill="#ff8000"/>
<rect x="453.38" y="105.20" width="3.62" height="1.10" fill="#00c000"/>
<rect x="453.38" y="106.30" width="3.62" height="5.40" fill="#ff0000"/>
<rect x="453.38" y="111.70" width="3.62" height="26.10" fill="#0000ff"/>
<rect x="39.1" y="11.0" width="1.5" height="127.2" fill="#8a8a80"/>
<rect x="39.0" y="137.5" width="419.8" height="1.2" fill="#333"/>
<rect x="43.00" y="138.7" width="1" height="2.2" fill="#444"/>
<rect x="48.42" y="138.7" width="1" height="2.2" fill="#444"/>
<rect x="53.83" y="138.7" width="1" height="2.2" fill="#444"/>
<rect x="59.25" y="138.7" width="1" height="2.2" fill="#444"/>
<rect x="64.67" y="138.7" width="1" height="2.2" fill="#444"/>
<rect x="70.09" y="138.7" width="1" height="2.2" fill="#444"/>
<rect x="75.50" y="138.7" width="1" height="2.2" fill="#444"/>
<rect x="80.92" y="138.7" width="1" height="2.2" fill="#444"/>
<rect x="86.34" y="138.7" width="1" height="2.2" fill="#444"/>
<rect x="91.75" y="138.7" width="1" height="2.2" fill="#444"/>
<rect x="97.17" y="138.7" width="1" height="2.2" fill="#444"/>
<rect x="102.59" y="138.7" width="1" height="2.2" fill="#444"/>
<rect x="108.00" y="138.7" width="1" height="2.2" fill="#444"/>
<rect x="113.42" y="138.7" width="1" height="2.2" fill="#444"/>
<rect x="118.84" y="138.7" width="1" height="2.2" fill="#444"/>
<rect x="124.25" y="138.7" width="1" height="2.2" fill="#444"/>
<rect x="129.67" y="138.7" width="1" height="2.2" fill="#444"/>
<rect x="135.09" y="138.7" width="1" height="2.2" fill="#444"/>
<rect x="140.51" y="138.7" width="1" height="2.2" fill="#444"/>
<rect x="145.92" y="138.7" width="1" height="2.2" fill="#444"/>
<rect x="151.34" y="138.7" width="1" height="2.2" fill="#444"/>
<rect x="156.76" y="138.7" width="1" height="2.2" fill="#444"/>
<rect x="162.17" y="138.7" width="1" height="2.2" fill="#444"/>
<rect x="167.59" y="138.7" width="1" height="2.2" fill="#444"/>
<rect x="173.01" y="138.7" width="1" height="2.2" fill="#444"/>
<rect x="178.42" y="138.7" width="1" height="2.2" fill="#444"/>
<rect x="183.84" y="138.7" width="1" height="2.2" fill="#444"/>
<rect x="189.26" y="138.7" width="1" height="2.2" fill="#444"/>
<rect x="194.68" y="138.7" width="1" height="2.2" fill="#444"/>
<rect x="200.09" y="138.7" width="1" height="2.2" fill="#444"/>
<rect x="205.51" y="138.7" width="1" height="2.2" fill="#444"/>
<rect x="210.93" y="138.7" width="1" height="2.2" fill="#444"/>
<rect x="216.34" y="138.7" width="1" height="2.2" fill="#444"/>
<rect x="221.76" y="138.7" width="1" height="2.2" fill="#444"/>
<rect x="227.18" y="138.7" width="1" height="2.2" fill="#444"/>
<rect x="232.59" y="138.7" width="1" height="2.2" fill="#444"/>
<rect x="238.01" y="138.7" width="1" height="2.2" fill="#444"/>
<rect x="243.43" y="138.7" width="1" height="2.2" fill="#444"/>
<rect x="248.85" y="138.7" width="1" height="2.2" fill="#444"/>
<rect x="254.26" y="138.7" width="1" height="2.2" fill="#444"/>
<rect x="259.68" y="138.7" width="1" height="2.2" fill="#444"/>
<rect x="265.10" y="138.7" width="1" height="2.2" fill="#444"/>
<rect x="270.51" y="138.7" width="1" height="2.2" fill="#444"/>
<rect x="275.93" y="138.7" width="1" height="2.2" fill="#444"/>
<rect x="281.35" y="138.7" width="1" height="2.2" fill="#444"/>
<rect x="286.76" y="138.7" width="1" height="2.2" fill="#444"/>
<rect x="292.18" y="138.7" width="1" height="2.2" fill="#444"/>
<rect x="297.60" y="138.7" width="1" height="2.2" fill="#444"/>
<rect x="303.02" y="138.7" width="1" height="2.2" fill="#444"/>
<rect x="308.43" y="138.7" width="1" height="2.2" fill="#444"/>
<rect x="313.85" y="138.7" width="1" height="2.2" fill="#444"/>
<rect x="319.27" y="138.7" width="1" height="2.2" fill="#444"/>
<rect x="324.68" y="138.7" width="1" height="2.2" fill="#444"/>
<rect x="330.10" y="138.7" width="1" height="2.2" fill="#444"/>
<rect x="335.52" y="138.7" width="1" height="2.2" fill="#444"/>
<rect x="340.94" y="138.7" width="1" height="2.2" fill="#444"/>
<rect x="346.35" y="138.7" width="1" height="2.2" fill="#444"/>
<rect x="351.77" y="138.7" width="1" height="2.2" fill="#444"/>
<rect x="357.19" y="138.7" width="1" height="2.2" fill="#444"/>
<rect x="362.60" y="138.7" width="1" height="2.2" fill="#444"/>
<rect x="368.02" y="138.7" width="1" height="2.2" fill="#444"/>
<rect x="373.44" y="138.7" width="1" height="2.2" fill="#444"/>
<rect x="378.85" y="138.7" width="1" height="2.2" fill="#444"/>
<rect x="384.27" y="138.7" width="1" height="2.2" fill="#444"/>
<rect x="389.69" y="138.7" width="1" height="2.2" fill="#444"/>
<rect x="395.10" y="138.7" width="1" height="2.2" fill="#444"/>
<rect x="400.52" y="138.7" width="1" height="2.2" fill="#444"/>
<rect x="405.94" y="138.7" width="1" height="2.2" fill="#444"/>
<rect x="411.36" y="138.7" width="1" height="2.2" fill="#444"/>
<rect x="416.77" y="138.7" width="1" height="2.2" fill="#444"/>
<rect x="422.19" y="138.7" width="1" height="2.2" fill="#444"/>
<rect x="427.61" y="138.7" width="1" height="2.2" fill="#444"/>
<rect x="433.02" y="138.7" width="1" height="2.2" fill="#444"/>
<rect x="438.44" y="138.7" width="1" height="2.2" fill="#444"/>
<rect x="443.86" y="138.7" width="1" height="2.2" fill="#444"/>
<rect x="449.27" y="138.7" width="1" height="2.2" fill="#444"/>
<rect x="454.69" y="138.7" width="1" height="2.2" fill="#444"/>
<text transform="translate(43.20,143.40) scale(0.58,1) rotate(-45)" font-size="6.4" text-anchor="end" fill="#222" stroke="#222" stroke-width="0.1" font-weight="bold">MF1</text>
<text transform="translate(48.62,143.40) scale(0.58,1) rotate(-45)" font-size="6.4" text-anchor="end" fill="#222" stroke="#222" stroke-width="0.1" font-weight="bold">MF13</text>
<text transform="translate(54.03,143.40) scale(0.58,1) rotate(-45)" font-size="6.4" text-anchor="end" fill="#222" stroke="#222" stroke-width="0.1" font-weight="bold">M3</text>
<text transform="translate(59.45,143.40) scale(0.58,1) rotate(-45)" font-size="6.4" text-anchor="end" fill="#222" stroke="#222" stroke-width="0.1" font-weight="bold">MF4</text>
<text transform="translate(64.87,143.40) scale(0.58,1) rotate(-45)" font-size="6.4" text-anchor="end" fill="#222" stroke="#222" stroke-width="0.1" font-weight="bold">MF19</text>
<text transform="translate(70.29,143.40) scale(0.58,1) rotate(-45)" font-size="6.4" text-anchor="end" fill="#222" stroke="#222" stroke-width="0.1" font-weight="bold">M0</text>
<text transform="translate(75.70,143.40) scale(0.58,1) rotate(-45)" font-size="6.4" text-anchor="end" fill="#222" stroke="#222" stroke-width="0.1" font-weight="bold">MF7</text>
<text transform="translate(81.12,143.40) scale(0.58,1) rotate(-45)" font-size="6.4" text-anchor="end" fill="#222" stroke="#222" stroke-width="0.1" font-weight="bold">MF13</text>
<text transform="translate(86.54,143.40) scale(0.58,1) rotate(-45)" font-size="6.4" text-anchor="end" fill="#222" stroke="#222" stroke-width="0.1" font-weight="bold">MF14</text>
<text transform="translate(91.95,143.40) scale(0.58,1) rotate(-45)" font-size="6.4" text-anchor="end" fill="#222" stroke="#222" stroke-width="0.1" font-weight="bold">MF8</text>
<text transform="translate(97.37,143.40) scale(0.58,1) rotate(-45)" font-size="6.4" text-anchor="end" fill="#222" stroke="#222" stroke-width="0.1" font-weight="bold">MF28</text>
<text transform="translate(102.79,143.40) scale(0.58,1) rotate(-45)" font-size="6.4" text-anchor="end" fill="#222" stroke="#222" stroke-width="0.1" font-weight="bold">M2</text>
<text transform="translate(108.20,143.40) scale(0.58,1) rotate(-45)" font-size="6.4" text-anchor="end" fill="#222" stroke="#222" stroke-width="0.1" font-weight="bold">MF4</text>
<text transform="translate(113.62,143.40) scale(0.58,1) rotate(-45)" font-size="6.4" text-anchor="end" fill="#222" stroke="#222" stroke-width="0.1" font-weight="bold">M1</text>
<text transform="translate(119.04,143.40) scale(0.58,1) rotate(-45)" font-size="6.4" text-anchor="end" fill="#222" stroke="#222" stroke-width="0.1" font-weight="bold">M2</text>
<text transform="translate(124.45,143.40) scale(0.58,1) rotate(-45)" font-size="6.4" text-anchor="end" fill="#222" stroke="#222" stroke-width="0.1" font-weight="bold">MF29</text>
<text transform="translate(129.87,143.40) scale(0.58,1) rotate(-45)" font-size="6.4" text-anchor="end" fill="#222" stroke="#222" stroke-width="0.1" font-weight="bold">MF2</text>
<text transform="translate(135.29,143.40) scale(0.58,1) rotate(-45)" font-size="6.4" text-anchor="end" fill="#222" stroke="#222" stroke-width="0.1" font-weight="bold">M2</text>
<text transform="translate(140.71,143.40) scale(0.58,1) rotate(-45)" font-size="6.4" text-anchor="end" fill="#222" stroke="#222" stroke-width="0.1" font-weight="bold">MF8</text>
<text transform="translate(146.12,143.40) scale(0.58,1) rotate(-45)" font-size="6.4" text-anchor="end" fill="#222" stroke="#222" stroke-width="0.1" font-weight="bold">MF20</text>
<text transform="translate(151.54,143.40) scale(0.58,1) rotate(-45)" font-size="6.4" text-anchor="end" fill="#222" stroke="#222" stroke-width="0.1" font-weight="bold">M5</text>
<text transform="translate(156.96,143.40) scale(0.58,1) rotate(-45)" font-size="6.4" text-anchor="end" fill="#222" stroke="#222" stroke-width="0.1" font-weight="bold">M4</text>
<text transform="translate(162.37,143.40) scale(0.58,1) rotate(-45)" font-size="6.4" text-anchor="end" fill="#222" stroke="#222" stroke-width="0.1" font-weight="bold">M0</text>
<text transform="translate(167.79,143.40) scale(0.58,1) rotate(-45)" font-size="6.4" text-anchor="end" fill="#222" stroke="#222" stroke-width="0.1" font-weight="bold">MF7</text>
<text transform="translate(173.21,143.40) scale(0.58,1) rotate(-45)" font-size="6.4" text-anchor="end" fill="#222" stroke="#222" stroke-width="0.1" font-weight="bold">M4</text>
<text transform="translate(178.62,143.40) scale(0.58,1) rotate(-45)" font-size="6.4" text-anchor="end" fill="#222" stroke="#222" stroke-width="0.1" font-weight="bold">MF9</text>
<text transform="translate(184.04,143.40) scale(0.58,1) rotate(-45)" font-size="6.4" text-anchor="end" fill="#222" stroke="#222" stroke-width="0.1" font-weight="bold">MF12</text>
<text transform="translate(189.46,143.40) scale(0.58,1) rotate(-45)" font-size="6.4" text-anchor="end" fill="#222" stroke="#222" stroke-width="0.1" font-weight="bold">MF18</text>
<text transform="translate(194.88,143.40) scale(0.58,1) rotate(-45)" font-size="6.4" text-anchor="end" fill="#222" stroke="#222" stroke-width="0.1" font-weight="bold">MF19</text>
<text transform="translate(200.29,143.40) scale(0.58,1) rotate(-45)" font-size="6.4" text-anchor="end" fill="#222" stroke="#222" stroke-width="0.1" font-weight="bold">MF0</text>
<text transform="translate(205.71,143.40) scale(0.58,1) rotate(-45)" font-size="6.4" text-anchor="end" fill="#222" stroke="#222" stroke-width="0.1" font-weight="bold">M6</text>
<text transform="translate(211.13,143.40) scale(0.58,1) rotate(-45)" font-size="6.4" text-anchor="end" fill="#222" stroke="#222" stroke-width="0.1" font-weight="bold">MF4</text>
<text transform="translate(216.54,143.40) scale(0.58,1) rotate(-45)" font-size="6.4" text-anchor="end" fill="#222" stroke="#222" stroke-width="0.1" font-weight="bold">M5</text>
<text transform="translate(221.96,143.40) scale(0.58,1) rotate(-45)" font-size="6.4" text-anchor="end" fill="#222" stroke="#222" stroke-width="0.1" font-weight="bold">MF40</text>
<text transform="translate(227.38,143.40) scale(0.58,1) rotate(-45)" font-size="6.4" text-anchor="end" fill="#222" stroke="#222" stroke-width="0.1" font-weight="bold">MF2</text>
<text transform="translate(232.79,143.40) scale(0.58,1) rotate(-45)" font-size="6.4" text-anchor="end" fill="#222" stroke="#222" stroke-width="0.1" font-weight="bold">MF8</text>
<text transform="translate(238.21,143.40) scale(0.58,1) rotate(-45)" font-size="6.4" text-anchor="end" fill="#222" stroke="#222" stroke-width="0.1" font-weight="bold">MF33</text>
<text transform="translate(243.63,143.40) scale(0.58,1) rotate(-45)" font-size="6.4" text-anchor="end" fill="#222" stroke="#222" stroke-width="0.1" font-weight="bold">MF13</text>
<text transform="translate(249.05,143.40) scale(0.58,1) rotate(-45)" font-size="6.4" text-anchor="end" fill="#222" stroke="#222" stroke-width="0.1" font-weight="bold">MF20</text>
<text transform="translate(254.46,143.40) scale(0.58,1) rotate(-45)" font-size="6.4" text-anchor="end" fill="#222" stroke="#222" stroke-width="0.1" font-weight="bold">MF26</text>
<text transform="translate(259.88,143.40) scale(0.58,1) rotate(-45)" font-size="6.4" text-anchor="end" fill="#222" stroke="#222" stroke-width="0.1" font-weight="bold">MF34</text>
<text transform="translate(265.30,143.40) scale(0.58,1) rotate(-45)" font-size="6.4" text-anchor="end" fill="#222" stroke="#222" stroke-width="0.1" font-weight="bold">MF20</text>
<text transform="translate(270.71,143.40) scale(0.58,1) rotate(-45)" font-size="6.4" text-anchor="end" fill="#222" stroke="#222" stroke-width="0.1" font-weight="bold">MF13</text>
<text transform="translate(276.13,143.40) scale(0.58,1) rotate(-45)" font-size="6.4" text-anchor="end" fill="#222" stroke="#222" stroke-width="0.1" font-weight="bold">MF27</text>
<text transform="translate(281.55,143.40) scale(0.58,1) rotate(-45)" font-size="6.4" text-anchor="end" fill="#222" stroke="#222" stroke-width="0.1" font-weight="bold">MF16</text>
<text transform="translate(286.87,143.40) rotate(-50) scale(0.85,1)" font-size="5.0" text-anchor="end" fill="#222" stroke="#222" stroke-width="0.2" font-weight="bold">37</text>
<text transform="translate(292.28,143.40) rotate(-50) scale(0.85,1)" font-size="5.0" text-anchor="end" fill="#222" stroke="#222" stroke-width="0.2" font-weight="bold">70</text>
<text transform="translate(297.70,143.40) rotate(-50) scale(0.85,1)" font-size="5.0" text-anchor="end" fill="#222" stroke="#222" stroke-width="0.2" font-weight="bold">28</text>
<text transform="translate(303.12,143.40) rotate(-50) scale(0.85,1)" font-size="5.0" text-anchor="end" fill="#222" stroke="#222" stroke-width="0.2" font-weight="bold">65</text>
<text transform="translate(308.53,143.40) rotate(-50) scale(0.85,1)" font-size="5.0" text-anchor="end" fill="#222" stroke="#222" stroke-width="0.2" font-weight="bold">69</text>
<text transform="translate(313.95,143.40) rotate(-50) scale(0.85,1)" font-size="5.0" text-anchor="end" fill="#222" stroke="#222" stroke-width="0.2" font-weight="bold">89</text>
<text transform="translate(319.37,143.40) rotate(-50) scale(0.85,1)" font-size="5.0" text-anchor="end" fill="#222" stroke="#222" stroke-width="0.2" font-weight="bold">81</text>
<text transform="translate(324.78,143.40) rotate(-50) scale(0.85,1)" font-size="5.0" text-anchor="end" fill="#222" stroke="#222" stroke-width="0.2" font-weight="bold">24</text>
<text transform="translate(330.20,143.40) rotate(-50) scale(0.85,1)" font-size="5.0" text-anchor="end" fill="#222" stroke="#222" stroke-width="0.2" font-weight="bold">81</text>
<text transform="translate(335.62,143.40) rotate(-50) scale(0.85,1)" font-size="5.0" text-anchor="end" fill="#222" stroke="#222" stroke-width="0.2" font-weight="bold">14</text>
<text transform="translate(341.04,143.40) rotate(-50) scale(0.85,1)" font-size="5.0" text-anchor="end" fill="#222" stroke="#222" stroke-width="0.2" font-weight="bold">84</text>
<text transform="translate(346.45,143.40) rotate(-50) scale(0.85,1)" font-size="5.0" text-anchor="end" fill="#222" stroke="#222" stroke-width="0.2" font-weight="bold">75</text>
<text transform="translate(351.87,143.40) rotate(-50) scale(0.85,1)" font-size="5.0" text-anchor="end" fill="#222" stroke="#222" stroke-width="0.2" font-weight="bold">17</text>
<text transform="translate(357.29,143.40) rotate(-50) scale(0.85,1)" font-size="5.0" text-anchor="end" fill="#222" stroke="#222" stroke-width="0.2" font-weight="bold">62</text>
<text transform="translate(362.70,143.40) rotate(-50) scale(0.85,1)" font-size="5.0" text-anchor="end" fill="#222" stroke="#222" stroke-width="0.2" font-weight="bold">27</text>
<text transform="translate(368.12,143.40) rotate(-50) scale(0.85,1)" font-size="5.0" text-anchor="end" fill="#222" stroke="#222" stroke-width="0.2" font-weight="bold">13</text>
<text transform="translate(373.54,143.40) rotate(-50) scale(0.85,1)" font-size="5.0" text-anchor="end" fill="#222" stroke="#222" stroke-width="0.2" font-weight="bold">52</text>
<text transform="translate(378.95,143.40) rotate(-50) scale(0.85,1)" font-size="5.0" text-anchor="end" fill="#222" stroke="#222" stroke-width="0.2" font-weight="bold">46</text>
<text transform="translate(384.37,143.40) rotate(-50) scale(0.85,1)" font-size="5.0" text-anchor="end" fill="#222" stroke="#222" stroke-width="0.2" font-weight="bold">77</text>
<text transform="translate(389.79,143.40) rotate(-50) scale(0.85,1)" font-size="5.0" text-anchor="end" fill="#222" stroke="#222" stroke-width="0.2" font-weight="bold">22</text>
<text transform="translate(395.20,143.40) rotate(-50) scale(0.85,1)" font-size="5.0" text-anchor="end" fill="#222" stroke="#222" stroke-width="0.2" font-weight="bold">86</text>
<text transform="translate(400.62,143.40) rotate(-50) scale(0.85,1)" font-size="5.0" text-anchor="end" fill="#222" stroke="#222" stroke-width="0.2" font-weight="bold">94</text>
<text transform="translate(406.04,143.40) rotate(-50) scale(0.85,1)" font-size="5.0" text-anchor="end" fill="#222" stroke="#222" stroke-width="0.2" font-weight="bold">36</text>
<text transform="translate(411.46,143.40) rotate(-50) scale(0.85,1)" font-size="5.0" text-anchor="end" fill="#222" stroke="#222" stroke-width="0.2" font-weight="bold">94</text>
<text transform="translate(416.87,143.40) rotate(-50) scale(0.85,1)" font-size="5.0" text-anchor="end" fill="#222" stroke="#222" stroke-width="0.2" font-weight="bold">75</text>
<text transform="translate(422.29,143.40) rotate(-50) scale(0.85,1)" font-size="5.0" text-anchor="end" fill="#222" stroke="#222" stroke-width="0.2" font-weight="bold">73</text>
<text transform="translate(427.71,143.40) rotate(-50) scale(0.85,1)" font-size="5.0" text-anchor="end" fill="#222" stroke="#222" stroke-width="0.2" font-weight="bold">31</text>
<text transform="translate(433.12,143.40) rotate(-50) scale(0.85,1)" font-size="5.0" text-anchor="end" fill="#222" stroke="#222" stroke-width="0.2" font-weight="bold">32</text>
<text transform="translate(438.54,143.40) rotate(-50) scale(0.85,1)" font-size="5.0" text-anchor="end" fill="#222" stroke="#222" stroke-width="0.2" font-weight="bold">43</text>
<text transform="translate(443.96,143.40) rotate(-50) scale(0.85,1)" font-size="5.0" text-anchor="end" fill="#222" stroke="#222" stroke-width="0.2" font-weight="bold">17</text>
<text transform="translate(449.38,143.40) rotate(-50) scale(0.85,1)" font-size="5.0" text-anchor="end" fill="#222" stroke="#222" stroke-width="0.2" font-weight="bold">34</text>
<text transform="translate(454.79,143.40) rotate(-50) scale(0.85,1)" font-size="5.0" text-anchor="end" fill="#222" stroke="#222" stroke-width="0.2" font-weight="bold">50</text>
<rect x="36.1" y="161.1" width="242.6" height="1.5" fill="#505050"/>
<rect x="36.1" y="158.9" width="1.3" height="3.5" fill="#505050"/>
<rect x="277.5" y="158.9" width="1.2" height="3.3" fill="#505050"/>
<rect x="279.7" y="161.1" width="179.1" height="1.5" fill="#505050"/>
<rect x="279.7" y="158.9" width="1.2" height="3.3" fill="#505050"/>
<rect x="457.6" y="158.9" width="1.2" height="3.5" fill="#505050"/>
<rect x="157.1" y="161.5" width="1" height="6.4" fill="#444"/>
<rect x="368.3" y="161.5" width="1" height="6.0" fill="#444"/>
<text transform="translate(157.60,177.50) scale(0.61,1)" x="0" y="0" font-size="10.4" font-weight="normal" text-anchor="middle" fill="#1a1a1a" stroke="#1a1a1a" stroke-width="0.35">MF</text>
<text transform="translate(368.60,177.50) scale(0.6,1)" x="0" y="0" font-size="10.4" font-weight="normal" text-anchor="middle" fill="#1a1a1a" stroke="#1a1a1a" stroke-width="0.35">SS</text>
<rect x="471.6" y="14.80" width="7.0" height="3.3" fill="#0000ff"/>
<text x="481.00" y="18.85" font-size="6.8" font-weight="normal" text-anchor="start" fill="#1a1a1a" stroke="#1a1a1a" stroke-width="0.12">1</text>
<rect x="471.6" y="22.25" width="7.0" height="3.3" fill="#ff0000"/>
<text x="481.00" y="26.29" font-size="6.8" font-weight="normal" text-anchor="start" fill="#1a1a1a" stroke="#1a1a1a" stroke-width="0.12">2</text>
<rect x="471.6" y="29.69" width="7.0" height="3.3" fill="#00c000"/>
<text x="481.00" y="33.74" font-size="6.8" font-weight="normal" text-anchor="start" fill="#1a1a1a" stroke="#1a1a1a" stroke-width="0.12">3</text>
<rect x="471.6" y="37.13" width="7.0" height="3.3" fill="#a000f0"/>
<text x="481.00" y="41.18" font-size="6.8" font-weight="normal" text-anchor="start" fill="#1a1a1a" stroke="#1a1a1a" stroke-width="0.12">4</text>
<rect x="471.6" y="44.58" width="7.0" height="3.3" fill="#ff8000"/>
<text x="481.00" y="48.63" font-size="6.8" font-weight="normal" text-anchor="start" fill="#1a1a1a" stroke="#1a1a1a" stroke-width="0.12">5</text>
<rect x="471.6" y="52.02" width="7.0" height="3.3" fill="#000000"/>
<text x="481.00" y="56.07" font-size="6.8" font-weight="normal" text-anchor="start" fill="#1a1a1a" stroke="#1a1a1a" stroke-width="0.12">6</text>
<rect x="471.6" y="59.47" width="7.0" height="3.3" fill="#a0661e"/>
<text x="481.00" y="63.52" font-size="6.8" font-weight="normal" text-anchor="start" fill="#1a1a1a" stroke="#1a1a1a" stroke-width="0.12">7</text>
<rect x="471.6" y="66.91" width="7.0" height="3.3" fill="#000090"/>
<text x="481.00" y="70.97" font-size="6.8" font-weight="normal" text-anchor="start" fill="#1a1a1a" stroke="#1a1a1a" stroke-width="0.12">8</text>
<rect x="471.6" y="74.36" width="7.0" height="3.3" fill="#600060"/>
<text x="481.00" y="78.41" font-size="6.8" font-weight="normal" text-anchor="start" fill="#1a1a1a" stroke="#1a1a1a" stroke-width="0.12">9</text>
<rect x="471.6" y="81.80" width="7.0" height="3.3" fill="#a00000"/>
<text x="481.00" y="85.86" font-size="6.8" font-weight="normal" text-anchor="start" fill="#1a1a1a" stroke="#1a1a1a" stroke-width="0.12">10</text>
<rect x="471.6" y="89.25" width="7.0" height="3.3" fill="#5a5a5a"/>
<text x="481.00" y="93.30" font-size="6.8" font-weight="normal" text-anchor="start" fill="#1a1a1a" stroke="#1a1a1a" stroke-width="0.12">Remaining</text>
<text x="7.20" y="193.90" font-size="10.8" font-weight="bold" text-anchor="start" fill="#000" >B</text>
<text transform="translate(14.8,243.7) rotate(-90) scale(0.67,1)" font-size="9.4" text-anchor="middle" fill="#1a1a1a" stroke="#1a1a1a" stroke-width="0.3">Relative frequency %</text>
<text transform="translate(32.40,298.90) scale(0.94,1)" x="0" y="0" font-size="8.0" font-weight="normal" text-anchor="end" fill="#1a1a1a" stroke="#1a1a1a" stroke-width="0.15">0</text>
<rect x="35.0" y="295.80" width="2.3" height="1" fill="#333"/>
<text transform="translate(32.40,277.78) scale(0.94,1)" x="0" y="0" font-size="8.0" font-weight="normal" text-anchor="end" fill="#1a1a1a" stroke="#1a1a1a" stroke-width="0.15">20</text>
<rect x="35.0" y="274.68" width="2.3" height="1" fill="#333"/>
<text transform="translate(32.40,256.66) scale(0.94,1)" x="0" y="0" font-size="8.0" font-weight="normal" text-anchor="end" fill="#1a1a1a" stroke="#1a1a1a" stroke-width="0.15">40</text>
<rect x="35.0" y="253.56" width="2.3" height="1" fill="#333"/>
<text transform="translate(32.40,235.54) scale(0.94,1)" x="0" y="0" font-size="8.0" font-weight="normal" text-anchor="end" fill="#1a1a1a" stroke="#1a1a1a" stroke-width="0.15">60</text>
<rect x="35.0" y="232.44" width="2.3" height="1" fill="#333"/>
<text transform="translate(32.40,214.42) scale(0.94,1)" x="0" y="0" font-size="8.0" font-weight="normal" text-anchor="end" fill="#1a1a1a" stroke="#1a1a1a" stroke-width="0.15">80</text>
<rect x="35.0" y="211.32" width="2.3" height="1" fill="#333"/>
<text transform="translate(32.40,193.30) scale(0.94,1)" x="0" y="0" font-size="8.0" font-weight="normal" text-anchor="end" fill="#1a1a1a" stroke="#1a1a1a" stroke-width="0.15">100</text>
<rect x="35.0" y="190.20" width="2.3" height="1" fill="#333"/>
<rect x="38.3" y="269.3" width="440" height="0.7" fill="#d0d0b8"/>
<rect x="38.80" y="190.70" width="2.30" height="105.60" fill="#0000ff"/>
<rect x="42.53" y="190.80" width="2.30" height="105.50" fill="#0000ff"/>
<rect x="46.25" y="190.90" width="2.30" height="105.40" fill="#0000ff"/>
<rect x="49.98" y="190.70" width="2.30" height="0.40" fill="#a0661e"/>
<rect x="49.98" y="191.10" width="2.30" height="105.20" fill="#0000ff"/>
<rect x="53.71" y="190.70" width="2.30" height="0.40" fill="#5a5a5a"/>
<rect x="53.71" y="191.10" width="2.30" height="105.20" fill="#0000ff"/>
<rect x="57.44" y="190.70" width="2.30" height="0.60" fill="#5a5a5a"/>
<rect x="57.44" y="191.30" width="2.30" height="105.00" fill="#0000ff"/>
<rect x="61.16" y="190.70" width="2.30" height="1.10" fill="#5a5a5a"/>
<rect x="61.16" y="191.80" width="2.30" height="0.60" fill="#ff0000"/>
<rect x="61.16" y="192.40" width="2.30" height="103.90" fill="#0000ff"/>
<rect x="64.89" y="190.70" width="2.30" height="1.10" fill="#5a5a5a"/>
<rect x="64.89" y="191.80" width="2.30" height="0.60" fill="#ff0000"/>
<rect x="64.89" y="192.40" width="2.30" height="103.90" fill="#0000ff"/>
<rect x="68.62" y="190.70" width="2.30" height="0.60" fill="#5a5a5a"/>
<rect x="68.62" y="191.30" width="2.30" height="1.10" fill="#ff0000"/>
<rect x="68.62" y="192.40" width="2.30" height="103.90" fill="#0000ff"/>
<rect x="72.34" y="190.70" width="2.30" height="0.60" fill="#5a5a5a"/>
<rect x="72.34" y="191.30" width="2.30" height="1.10" fill="#00c000"/>
<rect x="72.34" y="192.40" width="2.30" height="1.90" fill="#ff0000"/>
<rect x="72.34" y="194.30" width="2.30" height="102.00" fill="#0000ff"/>
<rect x="76.07" y="190.70" width="2.30" height="3.60" fill="#5a5a5a"/>
<rect x="76.07" y="194.30" width="2.30" height="0.70" fill="#ff0000"/>
<rect x="76.07" y="195.00" width="2.30" height="101.30" fill="#0000ff"/>
<rect x="79.80" y="190.70" width="2.30" height="4.00" fill="#5a5a5a"/>
<rect x="79.80" y="194.70" width="2.30" height="0.50" fill="#ff0000"/>
<rect x="79.80" y="195.20" width="2.30" height="101.10" fill="#0000ff"/>
<rect x="83.52" y="190.70" width="2.30" height="4.30" fill="#5a5a5a"/>
<rect x="83.52" y="195.00" width="2.30" height="0.30" fill="#ff0000"/>
<rect x="83.52" y="195.30" width="2.30" height="101.00" fill="#0000ff"/>
<rect x="87.25" y="190.70" width="2.30" height="2.50" fill="#5a5a5a"/>
<rect x="87.25" y="193.20" width="2.30" height="2.60" fill="#ff0000"/>
<rect x="87.25" y="195.80" width="2.30" height="100.50" fill="#0000ff"/>
<rect x="90.98" y="190.70" width="2.30" height="4.20" fill="#5a5a5a"/>
<rect x="90.98" y="194.90" width="2.30" height="1.20" fill="#ff0000"/>
<rect x="90.98" y="196.10" width="2.30" height="100.20" fill="#0000ff"/>
<rect x="94.70" y="190.70" width="2.30" height="1.00" fill="#5a5a5a"/>
<rect x="94.70" y="191.70" width="2.30" height="4.70" fill="#ff0000"/>
<rect x="94.70" y="196.40" width="2.30" height="99.90" fill="#0000ff"/>
<rect x="98.43" y="190.70" width="2.30" height="4.80" fill="#5a5a5a"/>
<rect x="98.43" y="195.50" width="2.30" height="1.40" fill="#ff0000"/>
<rect x="98.43" y="196.90" width="2.30" height="99.40" fill="#0000ff"/>
<rect x="102.16" y="190.70" width="2.30" height="3.60" fill="#5a5a5a"/>
<rect x="102.16" y="194.30" width="2.30" height="1.20" fill="#00c000"/>
<rect x="102.16" y="195.50" width="2.30" height="1.40" fill="#ff0000"/>
<rect x="102.16" y="196.90" width="2.30" height="99.40" fill="#0000ff"/>
<rect x="105.89" y="190.70" width="2.30" height="7.40" fill="#ff0000"/>
<rect x="105.89" y="198.10" width="2.30" height="98.20" fill="#0000ff"/>
<rect x="109.61" y="190.70" width="2.30" height="6.00" fill="#5a5a5a"/>
<rect x="109.61" y="196.70" width="2.30" height="0.90" fill="#a00000"/>
<rect x="109.61" y="197.60" width="2.30" height="0.90" fill="#000000"/>
<rect x="109.61" y="198.50" width="2.30" height="1.70" fill="#ff0000"/>
<rect x="109.61" y="200.20" width="2.30" height="96.10" fill="#0000ff"/>
<rect x="113.34" y="190.70" width="2.30" height="10.10" fill="#ff0000"/>
<rect x="113.34" y="200.80" width="2.30" height="95.50" fill="#0000ff"/>
<rect x="117.07" y="190.70" width="2.30" height="4.80" fill="#5a5a5a"/>
<rect x="117.07" y="195.50" width="2.30" height="1.40" fill="#00c000"/>
<rect x="117.07" y="196.90" width="2.30" height="4.30" fill="#ff0000"/>
<rect x="117.07" y="201.20" width="2.30" height="95.10" fill="#0000ff"/>
<rect x="120.79" y="190.70" width="2.30" height="1.80" fill="#5a5a5a"/>
<rect x="120.79" y="192.50" width="2.30" height="9.20" fill="#ff0000"/>
<rect x="120.79" y="201.70" width="2.30" height="94.60" fill="#0000ff"/>
<rect x="124.52" y="190.70" width="2.30" height="7.20" fill="#5a5a5a"/>
<rect x="124.52" y="197.90" width="2.30" height="1.10" fill="#600060"/>
<rect x="124.52" y="199.00" width="2.30" height="1.80" fill="#000000"/>
<rect x="124.52" y="200.80" width="2.30" height="1.50" fill="#ff0000"/>
<rect x="124.52" y="202.30" width="2.30" height="94.00" fill="#0000ff"/>
<rect x="128.25" y="190.70" width="2.30" height="11.90" fill="#5a5a5a"/>
<rect x="128.25" y="202.60" width="2.30" height="93.70" fill="#0000ff"/>
<rect x="131.97" y="190.70" width="2.30" height="9.50" fill="#5a5a5a"/>
<rect x="131.97" y="200.20" width="2.30" height="1.20" fill="#a00000"/>
<rect x="131.97" y="201.40" width="2.30" height="1.00" fill="#00c000"/>
<rect x="131.97" y="202.40" width="2.30" height="1.20" fill="#ff0000"/>
<rect x="131.97" y="203.60" width="2.30" height="92.70" fill="#0000ff"/>
<rect x="135.70" y="190.70" width="2.30" height="7.20" fill="#5a5a5a"/>
<rect x="135.70" y="197.90" width="2.30" height="1.30" fill="#a00000"/>
<rect x="135.70" y="199.20" width="2.30" height="1.00" fill="#000000"/>
<rect x="135.70" y="200.20" width="2.30" height="1.50" fill="#00c000"/>
<rect x="135.70" y="201.70" width="2.30" height="2.30" fill="#ff0000"/>
<rect x="135.70" y="204.00" width="2.30" height="92.30" fill="#0000ff"/>
<rect x="139.43" y="190.70" width="2.30" height="7.20" fill="#5a5a5a"/>
<rect x="139.43" y="197.90" width="2.30" height="7.10" fill="#ff0000"/>
<rect x="139.43" y="205.00" width="2.30" height="91.30" fill="#0000ff"/>
<rect x="143.16" y="190.70" width="2.30" height="15.50" fill="#ff0000"/>
<rect x="143.16" y="206.20" width="2.30" height="90.10" fill="#0000ff"/>
<rect x="146.88" y="190.70" width="2.30" height="6.60" fill="#5a5a5a"/>
<rect x="146.88" y="197.30" width="2.30" height="1.20" fill="#600060"/>
<rect x="146.88" y="198.50" width="2.30" height="0.90" fill="#ff8000"/>
<rect x="146.88" y="199.40" width="2.30" height="1.60" fill="#a000f0"/>
<rect x="146.88" y="201.00" width="2.30" height="2.80" fill="#00c000"/>
<rect x="146.88" y="203.80" width="2.30" height="3.60" fill="#ff0000"/>
<rect x="146.88" y="207.40" width="2.30" height="88.90" fill="#0000ff"/>
<rect x="150.61" y="190.70" width="2.30" height="5.40" fill="#5a5a5a"/>
<rect x="150.61" y="196.10" width="2.30" height="3.90" fill="#00c000"/>
<rect x="150.61" y="200.00" width="2.30" height="7.40" fill="#ff0000"/>
<rect x="150.61" y="207.40" width="2.30" height="88.90" fill="#0000ff"/>
<rect x="154.34" y="190.70" width="2.30" height="11.90" fill="#5a5a5a"/>
<rect x="154.34" y="202.60" width="2.30" height="2.40" fill="#600060"/>
<rect x="154.34" y="205.00" width="2.30" height="1.20" fill="#ff8000"/>
<rect x="154.34" y="206.20" width="2.30" height="1.20" fill="#ff0000"/>
<rect x="154.34" y="207.40" width="2.30" height="88.90" fill="#0000ff"/>
<rect x="158.06" y="190.70" width="2.30" height="8.90" fill="#5a5a5a"/>
<rect x="158.06" y="199.60" width="2.30" height="1.80" fill="#600060"/>
<rect x="158.06" y="201.40" width="2.30" height="1.60" fill="#a000f0"/>
<rect x="158.06" y="203.00" width="2.30" height="2.00" fill="#00c000"/>
<rect x="158.06" y="205.00" width="2.30" height="3.00" fill="#ff0000"/>
<rect x="158.06" y="208.00" width="2.30" height="88.30" fill="#0000ff"/>
<rect x="161.79" y="190.70" width="2.30" height="6.90" fill="#5a5a5a"/>
<rect x="161.79" y="197.60" width="2.30" height="11.50" fill="#ff0000"/>
<rect x="161.79" y="209.10" width="2.30" height="87.20" fill="#0000ff"/>
<rect x="165.52" y="190.70" width="2.30" height="10.10" fill="#5a5a5a"/>
<rect x="165.52" y="200.80" width="2.30" height="2.20" fill="#600060"/>
<rect x="165.52" y="203.00" width="2.30" height="3.00" fill="#000000"/>
<rect x="165.52" y="206.00" width="2.30" height="2.00" fill="#00c000"/>
<rect x="165.52" y="208.00" width="2.30" height="3.10" fill="#ff0000"/>
<rect x="165.52" y="211.10" width="2.30" height="85.20" fill="#0000ff"/>
<rect x="169.24" y="190.70" width="2.30" height="17.30" fill="#5a5a5a"/>
<rect x="169.24" y="208.00" width="2.30" height="1.50" fill="#a00000"/>
<rect x="169.24" y="209.50" width="2.30" height="0.90" fill="#ff8000"/>
<rect x="169.24" y="210.40" width="2.30" height="1.10" fill="#ff0000"/>
<rect x="169.24" y="211.50" width="2.30" height="84.80" fill="#0000ff"/>
<rect x="172.97" y="190.70" width="2.30" height="15.50" fill="#5a5a5a"/>
<rect x="172.97" y="206.20" width="2.30" height="2.30" fill="#600060"/>
<rect x="172.97" y="208.50" width="2.30" height="1.90" fill="#ff8000"/>
<rect x="172.97" y="210.40" width="2.30" height="2.60" fill="#ff0000"/>
<rect x="172.97" y="213.00" width="2.30" height="83.30" fill="#0000ff"/>
<rect x="176.70" y="190.70" width="2.30" height="18.40" fill="#5a5a5a"/>
<rect x="176.70" y="209.10" width="2.30" height="2.40" fill="#a00000"/>
<rect x="176.70" y="211.50" width="2.30" height="2.40" fill="#ff0000"/>
<rect x="176.70" y="213.90" width="2.30" height="82.40" fill="#0000ff"/>
<rect x="180.43" y="190.70" width="2.30" height="16.10" fill="#5a5a5a"/>
<rect x="180.43" y="206.80" width="2.30" height="1.70" fill="#600060"/>
<rect x="180.43" y="208.50" width="2.30" height="1.20" fill="#000000"/>
<rect x="180.43" y="209.70" width="2.30" height="1.80" fill="#a000f0"/>
<rect x="180.43" y="211.50" width="2.30" height="1.20" fill="#00c000"/>
<rect x="180.43" y="212.70" width="2.30" height="2.40" fill="#ff0000"/>
<rect x="180.43" y="215.10" width="2.30" height="81.20" fill="#0000ff"/>
<rect x="184.15" y="190.70" width="2.30" height="21.40" fill="#5a5a5a"/>
<rect x="184.15" y="212.10" width="2.30" height="1.80" fill="#600060"/>
<rect x="184.15" y="213.90" width="2.30" height="1.60" fill="#a000f0"/>
<rect x="184.15" y="215.50" width="2.30" height="3.10" fill="#00c000"/>
<rect x="184.15" y="218.60" width="2.30" height="9.30" fill="#ff0000"/>
<rect x="184.15" y="227.90" width="2.30" height="68.40" fill="#0000ff"/>
<rect x="187.88" y="190.70" width="2.30" height="33.10" fill="#5a5a5a"/>
<rect x="187.88" y="223.80" width="2.30" height="2.40" fill="#600060"/>
<rect x="187.88" y="226.20" width="2.30" height="1.10" fill="#000000"/>
<rect x="187.88" y="227.30" width="2.30" height="1.20" fill="#ff8000"/>
<rect x="187.88" y="228.50" width="2.30" height="1.20" fill="#00c000"/>
<rect x="187.88" y="229.70" width="2.30" height="3.00" fill="#ff0000"/>
<rect x="187.88" y="232.70" width="2.30" height="63.60" fill="#0000ff"/>
<rect x="191.61" y="190.70" width="2.30" height="3.00" fill="#5a5a5a"/>
<rect x="191.61" y="193.70" width="2.30" height="1.20" fill="#600060"/>
<rect x="191.61" y="194.90" width="2.30" height="13.00" fill="#00c000"/>
<rect x="191.61" y="207.90" width="2.30" height="26.90" fill="#ff0000"/>
<rect x="191.61" y="234.80" width="2.30" height="61.50" fill="#0000ff"/>
<rect x="195.33" y="190.70" width="2.30" height="5.40" fill="#5a5a5a"/>
<rect x="195.33" y="196.10" width="2.30" height="40.70" fill="#ff0000"/>
<rect x="195.33" y="236.80" width="2.30" height="59.50" fill="#0000ff"/>
<rect x="199.06" y="190.70" width="2.30" height="12.50" fill="#5a5a5a"/>
<rect x="199.06" y="203.20" width="2.30" height="1.80" fill="#600060"/>
<rect x="199.06" y="205.00" width="2.30" height="2.40" fill="#000000"/>
<rect x="199.06" y="207.40" width="2.30" height="1.70" fill="#a000f0"/>
<rect x="199.06" y="209.10" width="2.30" height="3.60" fill="#00c000"/>
<rect x="199.06" y="212.70" width="2.30" height="24.10" fill="#ff0000"/>
<rect x="199.06" y="236.80" width="2.30" height="59.50" fill="#0000ff"/>
<rect x="202.79" y="190.70" width="2.30" height="3.30" fill="#5a5a5a"/>
<rect x="202.79" y="194.00" width="2.30" height="1.50" fill="#a00000"/>
<rect x="202.79" y="195.50" width="2.30" height="1.50" fill="#000090"/>
<rect x="202.79" y="197.00" width="2.30" height="3.70" fill="#000000"/>
<rect x="202.79" y="200.70" width="2.30" height="6.30" fill="#ff8000"/>
<rect x="202.79" y="207.00" width="2.30" height="6.60" fill="#a000f0"/>
<rect x="202.79" y="213.60" width="2.30" height="6.80" fill="#00c000"/>
<rect x="202.79" y="220.40" width="2.30" height="21.70" fill="#ff0000"/>
<rect x="202.79" y="242.10" width="2.30" height="54.20" fill="#0000ff"/>
<rect x="206.52" y="190.70" width="2.30" height="19.60" fill="#5a5a5a"/>
<rect x="206.52" y="210.30" width="2.30" height="2.70" fill="#000090"/>
<rect x="206.52" y="213.00" width="2.30" height="2.40" fill="#000000"/>
<rect x="206.52" y="215.40" width="2.30" height="2.00" fill="#ff8000"/>
<rect x="206.52" y="217.40" width="2.30" height="2.80" fill="#a000f0"/>
<rect x="206.52" y="220.20" width="2.30" height="8.90" fill="#00c000"/>
<rect x="206.52" y="229.10" width="2.30" height="14.00" fill="#ff0000"/>
<rect x="206.52" y="243.10" width="2.30" height="53.20" fill="#0000ff"/>
<rect x="210.24" y="190.70" width="2.30" height="23.80" fill="#5a5a5a"/>
<rect x="210.24" y="214.50" width="2.30" height="1.70" fill="#a00000"/>
<rect x="210.24" y="216.20" width="2.30" height="2.40" fill="#000090"/>
<rect x="210.24" y="218.60" width="2.30" height="1.80" fill="#000000"/>
<rect x="210.24" y="220.40" width="2.30" height="1.80" fill="#ff8000"/>
<rect x="210.24" y="222.20" width="2.30" height="3.40" fill="#a000f0"/>
<rect x="210.24" y="225.60" width="2.30" height="2.60" fill="#00c000"/>
<rect x="210.24" y="228.20" width="2.30" height="16.60" fill="#ff0000"/>
<rect x="210.24" y="244.80" width="2.30" height="51.50" fill="#0000ff"/>
<rect x="213.97" y="190.70" width="2.30" height="3.40" fill="#5a5a5a"/>
<rect x="213.97" y="194.10" width="2.30" height="1.40" fill="#a00000"/>
<rect x="213.97" y="195.50" width="2.30" height="1.20" fill="#ff8000"/>
<rect x="213.97" y="196.70" width="2.30" height="1.20" fill="#a000f0"/>
<rect x="213.97" y="197.90" width="2.30" height="3.50" fill="#00c000"/>
<rect x="213.97" y="201.40" width="2.30" height="47.30" fill="#ff0000"/>
<rect x="213.97" y="248.70" width="2.30" height="47.60" fill="#0000ff"/>
<rect x="217.70" y="190.70" width="2.30" height="7.80" fill="#5a5a5a"/>
<rect x="217.70" y="198.50" width="2.30" height="1.50" fill="#600060"/>
<rect x="217.70" y="200.00" width="2.30" height="2.40" fill="#000090"/>
<rect x="217.70" y="202.40" width="2.30" height="2.60" fill="#000000"/>
<rect x="217.70" y="205.00" width="2.30" height="4.70" fill="#ff8000"/>
<rect x="217.70" y="209.70" width="2.30" height="6.00" fill="#a000f0"/>
<rect x="217.70" y="215.70" width="2.30" height="20.30" fill="#00c000"/>
<rect x="217.70" y="236.00" width="2.30" height="25.60" fill="#ff0000"/>
<rect x="217.70" y="261.60" width="2.30" height="34.70" fill="#0000ff"/>
<rect x="221.42" y="190.70" width="2.30" height="41.40" fill="#5a5a5a"/>
<rect x="221.42" y="232.10" width="2.30" height="1.90" fill="#a00000"/>
<rect x="221.42" y="234.00" width="2.30" height="2.20" fill="#000090"/>
<rect x="221.42" y="236.20" width="2.30" height="1.80" fill="#a0661e"/>
<rect x="221.42" y="238.00" width="2.30" height="3.00" fill="#000000"/>
<rect x="221.42" y="241.00" width="2.30" height="3.00" fill="#ff8000"/>
<rect x="221.42" y="244.00" width="2.30" height="4.70" fill="#a000f0"/>
<rect x="221.42" y="248.70" width="2.30" height="4.10" fill="#00c000"/>
<rect x="221.42" y="252.80" width="2.30" height="11.70" fill="#ff0000"/>
<rect x="221.42" y="264.50" width="2.30" height="31.80" fill="#0000ff"/>
<rect x="225.15" y="190.70" width="2.30" height="77.40" fill="#5a5a5a"/>
<rect x="225.15" y="268.10" width="2.30" height="0.90" fill="#a00000"/>
<rect x="225.15" y="269.00" width="2.30" height="0.90" fill="#000090"/>
<rect x="225.15" y="269.90" width="2.30" height="0.60" fill="#000000"/>
<rect x="225.15" y="270.50" width="2.30" height="1.10" fill="#ff8000"/>
<rect x="225.15" y="271.60" width="2.30" height="1.80" fill="#00c000"/>
<rect x="225.15" y="273.40" width="2.30" height="4.20" fill="#ff0000"/>
<rect x="225.15" y="277.60" width="2.30" height="18.70" fill="#0000ff"/>
<rect x="228.88" y="190.70" width="2.30" height="71.50" fill="#5a5a5a"/>
<rect x="228.88" y="262.20" width="2.30" height="1.80" fill="#a00000"/>
<rect x="228.88" y="264.00" width="2.30" height="1.70" fill="#000090"/>
<rect x="228.88" y="265.70" width="2.30" height="2.30" fill="#000000"/>
<rect x="228.88" y="268.00" width="2.30" height="2.50" fill="#ff8000"/>
<rect x="228.88" y="270.50" width="2.30" height="1.70" fill="#a000f0"/>
<rect x="228.88" y="272.20" width="2.30" height="2.40" fill="#00c000"/>
<rect x="228.88" y="274.60" width="2.30" height="6.50" fill="#ff0000"/>
<rect x="228.88" y="281.10" width="2.30" height="15.20" fill="#0000ff"/>
<rect x="232.60" y="190.70" width="2.30" height="68.30" fill="#5a5a5a"/>
<rect x="232.60" y="259.00" width="2.30" height="2.00" fill="#a00000"/>
<rect x="232.60" y="261.00" width="2.30" height="3.50" fill="#000090"/>
<rect x="232.60" y="264.50" width="2.30" height="3.00" fill="#000000"/>
<rect x="232.60" y="267.50" width="2.30" height="4.10" fill="#ff8000"/>
<rect x="232.60" y="271.60" width="2.30" height="4.20" fill="#a000f0"/>
<rect x="232.60" y="275.80" width="2.30" height="5.90" fill="#00c000"/>
<rect x="232.60" y="281.70" width="2.30" height="6.20" fill="#ff0000"/>
<rect x="232.60" y="287.90" width="2.30" height="8.40" fill="#0000ff"/>
<rect x="236.33" y="190.70" width="2.30" height="85.10" fill="#5a5a5a"/>
<rect x="236.33" y="275.80" width="2.30" height="2.40" fill="#a00000"/>
<rect x="236.33" y="278.20" width="2.30" height="2.80" fill="#000090"/>
<rect x="236.33" y="281.00" width="2.30" height="3.20" fill="#000000"/>
<rect x="236.33" y="284.20" width="2.30" height="2.60" fill="#ff8000"/>
<rect x="236.33" y="286.80" width="2.30" height="2.00" fill="#a000f0"/>
<rect x="236.33" y="288.80" width="2.30" height="2.40" fill="#00c000"/>
<rect x="236.33" y="291.20" width="2.30" height="3.00" fill="#ff0000"/>
<rect x="236.33" y="294.20" width="2.30" height="2.10" fill="#0000ff"/>
<rect x="240.06" y="190.70" width="2.30" height="105.60" fill="#0000ff"/>
<rect x="243.78" y="190.70" width="2.30" height="1.00" fill="#a00000"/>
<rect x="243.78" y="191.70" width="2.30" height="104.60" fill="#0000ff"/>
<rect x="247.51" y="190.70" width="2.30" height="3.00" fill="#5a5a5a"/>
<rect x="247.51" y="193.70" width="2.30" height="1.60" fill="#ff0000"/>
<rect x="247.51" y="195.30" width="2.30" height="101.00" fill="#0000ff"/>
<rect x="251.24" y="190.70" width="2.30" height="3.00" fill="#600060"/>
<rect x="251.24" y="193.70" width="2.30" height="1.80" fill="#a000f0"/>
<rect x="251.24" y="195.50" width="2.30" height="1.80" fill="#00c000"/>
<rect x="251.24" y="197.30" width="2.30" height="3.90" fill="#ff0000"/>
<rect x="251.24" y="201.20" width="2.30" height="95.10" fill="#0000ff"/>
<rect x="254.97" y="190.70" width="2.30" height="4.20" fill="#5a5a5a"/>
<rect x="254.97" y="194.90" width="2.30" height="1.60" fill="#600060"/>
<rect x="254.97" y="196.50" width="2.30" height="1.40" fill="#000000"/>
<rect x="254.97" y="197.90" width="2.30" height="1.70" fill="#00c000"/>
<rect x="254.97" y="199.60" width="2.30" height="4.20" fill="#ff0000"/>
<rect x="254.97" y="203.80" width="2.30" height="92.50" fill="#0000ff"/>
<rect x="258.69" y="190.70" width="2.30" height="13.10" fill="#5a5a5a"/>
<rect x="258.69" y="203.80" width="2.30" height="1.20" fill="#ff0000"/>
<rect x="258.69" y="205.00" width="2.30" height="91.30" fill="#0000ff"/>
<rect x="262.42" y="190.70" width="2.30" height="20.00" fill="#5a5a5a"/>
<rect x="262.42" y="210.70" width="2.30" height="1.00" fill="#a00000"/>
<rect x="262.42" y="211.70" width="2.30" height="1.00" fill="#000090"/>
<rect x="262.42" y="212.70" width="2.30" height="1.80" fill="#ff8000"/>
<rect x="262.42" y="214.50" width="2.30" height="1.70" fill="#00c000"/>
<rect x="262.42" y="216.20" width="2.30" height="2.40" fill="#ff0000"/>
<rect x="262.42" y="218.60" width="2.30" height="77.70" fill="#0000ff"/>
<rect x="266.15" y="190.70" width="2.30" height="11.30" fill="#5a5a5a"/>
<rect x="266.15" y="202.00" width="2.30" height="1.80" fill="#600060"/>
<rect x="266.15" y="203.80" width="2.30" height="1.80" fill="#a000f0"/>
<rect x="266.15" y="205.60" width="2.30" height="2.00" fill="#00c000"/>
<rect x="266.15" y="207.60" width="2.30" height="12.20" fill="#ff0000"/>
<rect x="266.15" y="219.80" width="2.30" height="76.50" fill="#0000ff"/>
<rect x="269.87" y="190.70" width="2.30" height="13.70" fill="#5a5a5a"/>
<rect x="269.87" y="204.40" width="2.30" height="1.60" fill="#a00000"/>
<rect x="269.87" y="206.00" width="2.30" height="1.40" fill="#000090"/>
<rect x="269.87" y="207.40" width="2.30" height="2.30" fill="#000000"/>
<rect x="269.87" y="209.70" width="2.30" height="1.80" fill="#ff8000"/>
<rect x="269.87" y="211.50" width="2.30" height="3.20" fill="#a000f0"/>
<rect x="269.87" y="214.70" width="2.30" height="5.10" fill="#00c000"/>
<rect x="269.87" y="219.80" width="2.30" height="5.80" fill="#ff0000"/>
<rect x="269.87" y="225.60" width="2.30" height="70.70" fill="#0000ff"/>
<rect x="273.60" y="190.70" width="2.30" height="42.20" fill="#5a5a5a"/>
<rect x="273.60" y="232.90" width="2.30" height="2.10" fill="#a00000"/>
<rect x="273.60" y="235.00" width="2.30" height="2.40" fill="#000090"/>
<rect x="273.60" y="237.40" width="2.30" height="1.80" fill="#a0661e"/>
<rect x="273.60" y="239.20" width="2.30" height="2.40" fill="#000000"/>
<rect x="273.60" y="241.60" width="2.30" height="1.80" fill="#ff8000"/>
<rect x="273.60" y="243.40" width="2.30" height="2.30" fill="#a000f0"/>
<rect x="273.60" y="245.70" width="2.30" height="2.20" fill="#00c000"/>
<rect x="273.60" y="247.90" width="2.30" height="1.60" fill="#ff0000"/>
<rect x="273.60" y="249.50" width="2.30" height="46.80" fill="#0000ff"/>
<rect x="277.33" y="190.70" width="2.30" height="6.90" fill="#5a5a5a"/>
<rect x="277.33" y="197.60" width="2.30" height="1.40" fill="#a00000"/>
<rect x="277.33" y="199.00" width="2.30" height="1.80" fill="#000090"/>
<rect x="277.33" y="200.80" width="2.30" height="3.60" fill="#000000"/>
<rect x="277.33" y="204.40" width="2.30" height="4.40" fill="#ff8000"/>
<rect x="277.33" y="208.80" width="2.30" height="7.80" fill="#a000f0"/>
<rect x="277.33" y="216.60" width="2.30" height="22.00" fill="#00c000"/>
<rect x="277.33" y="238.60" width="2.30" height="26.30" fill="#ff0000"/>
<rect x="277.33" y="264.90" width="2.30" height="31.40" fill="#0000ff"/>
<rect x="281.06" y="190.70" width="2.30" height="52.70" fill="#5a5a5a"/>
<rect x="281.06" y="243.40" width="2.30" height="1.70" fill="#a00000"/>
<rect x="281.06" y="245.10" width="2.30" height="4.40" fill="#000090"/>
<rect x="281.06" y="249.50" width="2.30" height="3.30" fill="#000000"/>
<rect x="281.06" y="252.80" width="2.30" height="5.20" fill="#ff8000"/>
<rect x="281.06" y="258.00" width="2.30" height="5.70" fill="#a000f0"/>
<rect x="281.06" y="263.70" width="2.30" height="7.10" fill="#00c000"/>
<rect x="281.06" y="270.80" width="2.30" height="8.60" fill="#ff0000"/>
<rect x="281.06" y="279.40" width="2.30" height="16.90" fill="#0000ff"/>
<rect x="284.78" y="190.70" width="2.30" height="46.10" fill="#5a5a5a"/>
<rect x="284.78" y="236.80" width="2.30" height="2.40" fill="#a00000"/>
<rect x="284.78" y="239.20" width="2.30" height="6.50" fill="#000090"/>
<rect x="284.78" y="245.70" width="2.30" height="3.80" fill="#a0661e"/>
<rect x="284.78" y="249.50" width="2.30" height="3.90" fill="#000000"/>
<rect x="284.78" y="253.40" width="2.30" height="3.60" fill="#ff8000"/>
<rect x="284.78" y="257.00" width="2.30" height="6.00" fill="#a000f0"/>
<rect x="284.78" y="263.00" width="2.30" height="7.50" fill="#00c000"/>
<rect x="284.78" y="270.50" width="2.30" height="13.00" fill="#ff0000"/>
<rect x="284.78" y="283.50" width="2.30" height="12.80" fill="#0000ff"/>
<rect x="288.51" y="190.70" width="2.30" height="75.80" fill="#5a5a5a"/>
<rect x="288.51" y="266.50" width="2.30" height="1.60" fill="#a00000"/>
<rect x="288.51" y="268.10" width="2.30" height="2.40" fill="#000090"/>
<rect x="288.51" y="270.50" width="2.30" height="1.50" fill="#000000"/>
<rect x="288.51" y="272.00" width="2.30" height="2.60" fill="#ff8000"/>
<rect x="288.51" y="274.60" width="2.30" height="2.40" fill="#a000f0"/>
<rect x="288.51" y="277.00" width="2.30" height="4.10" fill="#00c000"/>
<rect x="288.51" y="281.10" width="2.30" height="4.80" fill="#ff0000"/>
<rect x="288.51" y="285.90" width="2.30" height="10.40" fill="#0000ff"/>
<rect x="292.24" y="190.70" width="2.30" height="61.50" fill="#5a5a5a"/>
<rect x="292.24" y="252.20" width="2.30" height="2.80" fill="#a00000"/>
<rect x="292.24" y="255.00" width="2.30" height="3.50" fill="#000090"/>
<rect x="292.24" y="258.50" width="2.30" height="3.00" fill="#a0661e"/>
<rect x="292.24" y="261.50" width="2.30" height="4.20" fill="#000000"/>
<rect x="292.24" y="265.70" width="2.30" height="4.20" fill="#ff8000"/>
<rect x="292.24" y="269.90" width="2.30" height="4.10" fill="#a000f0"/>
<rect x="292.24" y="274.00" width="2.30" height="4.80" fill="#00c000"/>
<rect x="292.24" y="278.80" width="2.30" height="8.90" fill="#ff0000"/>
<rect x="292.24" y="287.70" width="2.30" height="8.60" fill="#0000ff"/>
<rect x="295.96" y="190.70" width="2.30" height="61.00" fill="#5a5a5a"/>
<rect x="295.96" y="251.70" width="2.30" height="3.50" fill="#a00000"/>
<rect x="295.96" y="255.20" width="2.30" height="7.50" fill="#000090"/>
<rect x="295.96" y="262.70" width="2.30" height="2.40" fill="#a0661e"/>
<rect x="295.96" y="265.10" width="2.30" height="3.60" fill="#000000"/>
<rect x="295.96" y="268.70" width="2.30" height="4.10" fill="#ff8000"/>
<rect x="295.96" y="272.80" width="2.30" height="3.00" fill="#a000f0"/>
<rect x="295.96" y="275.80" width="2.30" height="7.10" fill="#00c000"/>
<rect x="295.96" y="282.90" width="2.30" height="6.90" fill="#ff0000"/>
<rect x="295.96" y="289.80" width="2.30" height="6.50" fill="#0000ff"/>
<rect x="299.69" y="190.70" width="2.30" height="75.60" fill="#5a5a5a"/>
<rect x="299.69" y="266.30" width="2.30" height="1.70" fill="#a00000"/>
<rect x="299.69" y="268.00" width="2.30" height="4.00" fill="#000090"/>
<rect x="299.69" y="272.00" width="2.30" height="3.80" fill="#000000"/>
<rect x="299.69" y="275.80" width="2.30" height="3.60" fill="#ff8000"/>
<rect x="299.69" y="279.40" width="2.30" height="3.60" fill="#a000f0"/>
<rect x="299.69" y="283.00" width="2.30" height="4.10" fill="#00c000"/>
<rect x="299.69" y="287.10" width="2.30" height="3.90" fill="#ff0000"/>
<rect x="299.69" y="291.00" width="2.30" height="5.30" fill="#0000ff"/>
<rect x="303.42" y="190.70" width="2.30" height="88.10" fill="#5a5a5a"/>
<rect x="303.42" y="278.80" width="2.30" height="1.70" fill="#a00000"/>
<rect x="303.42" y="280.50" width="2.30" height="2.50" fill="#000090"/>
<rect x="303.42" y="283.00" width="2.30" height="2.70" fill="#000000"/>
<rect x="303.42" y="285.70" width="2.30" height="2.50" fill="#ff8000"/>
<rect x="303.42" y="288.20" width="2.30" height="1.80" fill="#a000f0"/>
<rect x="303.42" y="290.00" width="2.30" height="1.80" fill="#00c000"/>
<rect x="303.42" y="291.80" width="2.30" height="1.80" fill="#ff0000"/>
<rect x="303.42" y="293.60" width="2.30" height="2.70" fill="#0000ff"/>
<rect x="307.14" y="190.70" width="2.30" height="98.40" fill="#5a5a5a"/>
<rect x="307.14" y="289.10" width="2.30" height="2.10" fill="#a00000"/>
<rect x="307.14" y="291.20" width="2.30" height="2.40" fill="#ff8000"/>
<rect x="307.14" y="293.60" width="2.30" height="1.40" fill="#ff0000"/>
<rect x="307.14" y="295.00" width="2.30" height="1.30" fill="#0000ff"/>
<rect x="310.87" y="190.70" width="2.30" height="6.60" fill="#5a5a5a"/>
<rect x="310.87" y="197.30" width="2.30" height="2.00" fill="#600060"/>
<rect x="310.87" y="199.30" width="2.30" height="0.90" fill="#00c000"/>
<rect x="310.87" y="200.20" width="2.30" height="1.50" fill="#ff0000"/>
<rect x="310.87" y="201.70" width="2.30" height="94.60" fill="#0000ff"/>
<rect x="314.60" y="190.70" width="2.30" height="18.40" fill="#5a5a5a"/>
<rect x="314.60" y="209.10" width="2.30" height="1.20" fill="#ff8000"/>
<rect x="314.60" y="210.30" width="2.30" height="1.60" fill="#ff0000"/>
<rect x="314.60" y="211.90" width="2.30" height="84.40" fill="#0000ff"/>
<rect x="318.32" y="190.70" width="2.30" height="9.30" fill="#a000f0"/>
<rect x="318.32" y="200.00" width="2.30" height="10.00" fill="#00c000"/>
<rect x="318.32" y="210.00" width="2.30" height="9.50" fill="#ff0000"/>
<rect x="318.32" y="219.50" width="2.30" height="76.80" fill="#0000ff"/>
<rect x="322.05" y="190.70" width="2.30" height="36.00" fill="#5a5a5a"/>
<rect x="322.05" y="226.70" width="2.30" height="1.80" fill="#a00000"/>
<rect x="322.05" y="228.50" width="2.30" height="1.80" fill="#000090"/>
<rect x="322.05" y="230.30" width="2.30" height="1.40" fill="#ff8000"/>
<rect x="322.05" y="231.70" width="2.30" height="1.20" fill="#00c000"/>
<rect x="322.05" y="232.90" width="2.30" height="3.90" fill="#ff0000"/>
<rect x="322.05" y="236.80" width="2.30" height="59.50" fill="#0000ff"/>
<rect x="325.78" y="190.70" width="2.30" height="32.30" fill="#5a5a5a"/>
<rect x="325.78" y="223.00" width="2.30" height="2.60" fill="#a00000"/>
<rect x="325.78" y="225.60" width="2.30" height="2.90" fill="#000090"/>
<rect x="325.78" y="228.50" width="2.30" height="2.00" fill="#000000"/>
<rect x="325.78" y="230.50" width="2.30" height="2.80" fill="#ff8000"/>
<rect x="325.78" y="233.30" width="2.30" height="2.30" fill="#a000f0"/>
<rect x="325.78" y="235.60" width="2.30" height="5.40" fill="#00c000"/>
<rect x="325.78" y="241.00" width="2.30" height="5.90" fill="#ff0000"/>
<rect x="325.78" y="246.90" width="2.30" height="49.40" fill="#0000ff"/>
<rect x="329.51" y="190.70" width="2.30" height="33.70" fill="#5a5a5a"/>
<rect x="329.51" y="224.40" width="2.30" height="2.90" fill="#a00000"/>
<rect x="329.51" y="227.30" width="2.30" height="3.00" fill="#000090"/>
<rect x="329.51" y="230.30" width="2.30" height="2.40" fill="#a0661e"/>
<rect x="329.51" y="232.70" width="2.30" height="2.90" fill="#000000"/>
<rect x="329.51" y="235.60" width="2.30" height="2.40" fill="#ff8000"/>
<rect x="329.51" y="238.00" width="2.30" height="2.70" fill="#a000f0"/>
<rect x="329.51" y="240.70" width="2.30" height="2.90" fill="#00c000"/>
<rect x="329.51" y="243.60" width="2.30" height="5.40" fill="#ff0000"/>
<rect x="329.51" y="249.00" width="2.30" height="47.30" fill="#0000ff"/>
<rect x="333.23" y="190.70" width="2.30" height="75.00" fill="#5a5a5a"/>
<rect x="333.23" y="265.70" width="2.30" height="2.40" fill="#a00000"/>
<rect x="333.23" y="268.10" width="2.30" height="2.40" fill="#000090"/>
<rect x="333.23" y="270.50" width="2.30" height="1.70" fill="#a0661e"/>
<rect x="333.23" y="272.20" width="2.30" height="2.40" fill="#000000"/>
<rect x="333.23" y="274.60" width="2.30" height="2.40" fill="#ff8000"/>
<rect x="333.23" y="277.00" width="2.30" height="2.90" fill="#a000f0"/>
<rect x="333.23" y="279.90" width="2.30" height="4.20" fill="#00c000"/>
<rect x="333.23" y="284.10" width="2.30" height="5.30" fill="#ff0000"/>
<rect x="333.23" y="289.40" width="2.30" height="6.90" fill="#0000ff"/>
<rect x="336.96" y="190.70" width="2.30" height="92.20" fill="#5a5a5a"/>
<rect x="336.96" y="282.90" width="2.30" height="1.20" fill="#a00000"/>
<rect x="336.96" y="284.10" width="2.30" height="1.20" fill="#000090"/>
<rect x="336.96" y="285.30" width="2.30" height="1.20" fill="#ff8000"/>
<rect x="336.96" y="286.50" width="2.30" height="1.70" fill="#a000f0"/>
<rect x="336.96" y="288.20" width="2.30" height="1.20" fill="#00c000"/>
<rect x="336.96" y="289.40" width="2.30" height="2.40" fill="#ff0000"/>
<rect x="336.96" y="291.80" width="2.30" height="4.50" fill="#0000ff"/>
<rect x="340.69" y="190.70" width="2.30" height="89.20" fill="#5a5a5a"/>
<rect x="340.69" y="279.90" width="2.30" height="1.60" fill="#a00000"/>
<rect x="340.69" y="281.50" width="2.30" height="1.40" fill="#000090"/>
<rect x="340.69" y="282.90" width="2.30" height="1.60" fill="#000000"/>
<rect x="340.69" y="284.50" width="2.30" height="2.00" fill="#ff8000"/>
<rect x="340.69" y="286.50" width="2.30" height="1.70" fill="#a000f0"/>
<rect x="340.69" y="288.20" width="2.30" height="2.40" fill="#00c000"/>
<rect x="340.69" y="290.60" width="2.30" height="2.00" fill="#ff0000"/>
<rect x="340.69" y="292.60" width="2.30" height="3.70" fill="#0000ff"/>
<rect x="344.41" y="190.70" width="2.30" height="95.50" fill="#5a5a5a"/>
<rect x="344.41" y="286.20" width="2.30" height="1.30" fill="#a00000"/>
<rect x="344.41" y="287.50" width="2.30" height="1.10" fill="#000090"/>
<rect x="344.41" y="288.60" width="2.30" height="1.20" fill="#ff8000"/>
<rect x="344.41" y="289.80" width="2.30" height="0.80" fill="#000000"/>
<rect x="344.41" y="290.60" width="2.30" height="1.20" fill="#a000f0"/>
<rect x="344.41" y="291.80" width="2.30" height="1.20" fill="#00c000"/>
<rect x="344.41" y="293.00" width="2.30" height="1.50" fill="#ff0000"/>
<rect x="344.41" y="294.50" width="2.30" height="1.80" fill="#0000ff"/>
<rect x="348.14" y="190.70" width="2.30" height="1.00" fill="#5a5a5a"/>
<rect x="348.14" y="191.70" width="2.30" height="1.20" fill="#ff0000"/>
<rect x="348.14" y="192.90" width="2.30" height="103.40" fill="#0000ff"/>
<rect x="351.87" y="190.70" width="2.30" height="1.00" fill="#5a5a5a"/>
<rect x="351.87" y="191.70" width="2.30" height="5.20" fill="#ff0000"/>
<rect x="351.87" y="196.90" width="2.30" height="99.40" fill="#0000ff"/>
<rect x="355.60" y="190.70" width="2.30" height="8.60" fill="#5a5a5a"/>
<rect x="355.60" y="199.30" width="2.30" height="1.20" fill="#a00000"/>
<rect x="355.60" y="200.50" width="2.30" height="1.20" fill="#00c000"/>
<rect x="355.60" y="201.70" width="2.30" height="1.10" fill="#ff0000"/>
<rect x="355.60" y="202.80" width="2.30" height="93.50" fill="#0000ff"/>
<rect x="359.32" y="190.70" width="2.30" height="5.40" fill="#5a5a5a"/>
<rect x="359.32" y="196.10" width="2.30" height="1.40" fill="#a00000"/>
<rect x="359.32" y="197.50" width="2.30" height="1.80" fill="#000090"/>
<rect x="359.32" y="199.30" width="2.30" height="2.00" fill="#a000f0"/>
<rect x="359.32" y="201.30" width="2.30" height="2.30" fill="#00c000"/>
<rect x="359.32" y="203.60" width="2.30" height="1.40" fill="#ff0000"/>
<rect x="359.32" y="205.00" width="2.30" height="91.30" fill="#0000ff"/>
<rect x="363.05" y="190.70" width="2.30" height="13.10" fill="#5a5a5a"/>
<rect x="363.05" y="203.80" width="2.30" height="1.40" fill="#a00000"/>
<rect x="363.05" y="205.20" width="2.30" height="1.30" fill="#ff8000"/>
<rect x="363.05" y="206.50" width="2.30" height="0.90" fill="#ff0000"/>
<rect x="363.05" y="207.40" width="2.30" height="88.90" fill="#0000ff"/>
<rect x="366.78" y="190.70" width="2.30" height="14.90" fill="#5a5a5a"/>
<rect x="366.78" y="205.60" width="2.30" height="1.30" fill="#a00000"/>
<rect x="366.78" y="206.90" width="2.30" height="0.50" fill="#ff8000"/>
<rect x="366.78" y="207.40" width="2.30" height="1.40" fill="#ff0000"/>
<rect x="366.78" y="208.80" width="2.30" height="87.50" fill="#0000ff"/>
<rect x="370.50" y="190.70" width="2.30" height="23.50" fill="#5a5a5a"/>
<rect x="370.50" y="214.20" width="2.30" height="1.00" fill="#a00000"/>
<rect x="370.50" y="215.20" width="2.30" height="1.10" fill="#000090"/>
<rect x="370.50" y="216.30" width="2.30" height="0.80" fill="#ff8000"/>
<rect x="370.50" y="217.10" width="2.30" height="0.90" fill="#ff0000"/>
<rect x="370.50" y="218.00" width="2.30" height="78.30" fill="#0000ff"/>
<rect x="374.23" y="190.70" width="2.30" height="22.00" fill="#5a5a5a"/>
<rect x="374.23" y="212.70" width="2.30" height="1.80" fill="#600060"/>
<rect x="374.23" y="214.50" width="2.30" height="1.70" fill="#000090"/>
<rect x="374.23" y="216.20" width="2.30" height="0.80" fill="#a000f0"/>
<rect x="374.23" y="217.00" width="2.30" height="1.00" fill="#00c000"/>
<rect x="374.23" y="218.00" width="2.30" height="2.20" fill="#ff0000"/>
<rect x="374.23" y="220.20" width="2.30" height="76.10" fill="#0000ff"/>
<rect x="377.96" y="190.70" width="2.30" height="10.50" fill="#5a5a5a"/>
<rect x="377.96" y="201.20" width="2.30" height="1.20" fill="#a00000"/>
<rect x="377.96" y="202.40" width="2.30" height="1.60" fill="#000090"/>
<rect x="377.96" y="204.00" width="2.30" height="1.60" fill="#000000"/>
<rect x="377.96" y="205.60" width="2.30" height="1.80" fill="#ff8000"/>
<rect x="377.96" y="207.40" width="2.30" height="2.10" fill="#a000f0"/>
<rect x="377.96" y="209.50" width="2.30" height="6.40" fill="#00c000"/>
<rect x="377.96" y="215.90" width="2.30" height="7.30" fill="#ff0000"/>
<rect x="377.96" y="223.20" width="2.30" height="73.10" fill="#0000ff"/>
<rect x="381.68" y="190.70" width="2.30" height="4.20" fill="#000000"/>
<rect x="381.68" y="194.90" width="2.30" height="5.10" fill="#ff8000"/>
<rect x="381.68" y="200.00" width="2.30" height="4.70" fill="#a000f0"/>
<rect x="381.68" y="204.70" width="2.30" height="10.00" fill="#00c000"/>
<rect x="381.68" y="214.70" width="2.30" height="9.50" fill="#ff0000"/>
<rect x="381.68" y="224.20" width="2.30" height="72.10" fill="#0000ff"/>
<rect x="385.41" y="190.70" width="2.30" height="33.70" fill="#5a5a5a"/>
<rect x="385.41" y="224.40" width="2.30" height="1.10" fill="#a00000"/>
<rect x="385.41" y="225.50" width="2.30" height="0.70" fill="#000090"/>
<rect x="385.41" y="226.20" width="2.30" height="0.80" fill="#ff8000"/>
<rect x="385.41" y="227.00" width="2.30" height="0.90" fill="#ff0000"/>
<rect x="385.41" y="227.90" width="2.30" height="68.40" fill="#0000ff"/>
<rect x="389.14" y="190.70" width="2.30" height="32.70" fill="#5a5a5a"/>
<rect x="389.14" y="223.40" width="2.30" height="2.10" fill="#a00000"/>
<rect x="389.14" y="225.50" width="2.30" height="1.30" fill="#000090"/>
<rect x="389.14" y="226.80" width="2.30" height="1.70" fill="#a000f0"/>
<rect x="389.14" y="228.50" width="2.30" height="1.20" fill="#00c000"/>
<rect x="389.14" y="229.70" width="2.30" height="2.00" fill="#ff0000"/>
<rect x="389.14" y="231.70" width="2.30" height="64.60" fill="#0000ff"/>
<rect x="392.87" y="190.70" width="2.30" height="47.90" fill="#5a5a5a"/>
<rect x="392.87" y="238.60" width="2.30" height="1.90" fill="#a00000"/>
<rect x="392.87" y="240.50" width="2.30" height="1.10" fill="#000090"/>
<rect x="392.87" y="241.60" width="2.30" height="1.40" fill="#a000f0"/>
<rect x="392.87" y="243.00" width="2.30" height="1.80" fill="#00c000"/>
<rect x="392.87" y="244.80" width="2.30" height="2.70" fill="#ff0000"/>
<rect x="392.87" y="247.50" width="2.30" height="48.80" fill="#0000ff"/>
<rect x="396.59" y="190.70" width="2.30" height="24.00" fill="#5a5a5a"/>
<rect x="396.59" y="214.70" width="2.30" height="2.10" fill="#a00000"/>
<rect x="396.59" y="216.80" width="2.30" height="1.00" fill="#000090"/>
<rect x="396.59" y="217.80" width="2.30" height="2.00" fill="#000000"/>
<rect x="396.59" y="219.80" width="2.30" height="1.80" fill="#ff8000"/>
<rect x="396.59" y="221.60" width="2.30" height="1.80" fill="#a000f0"/>
<rect x="396.59" y="223.40" width="2.30" height="2.20" fill="#00c000"/>
<rect x="396.59" y="225.60" width="2.30" height="22.30" fill="#ff0000"/>
<rect x="396.59" y="247.90" width="2.30" height="48.40" fill="#0000ff"/>
<rect x="400.32" y="190.70" width="2.30" height="37.80" fill="#5a5a5a"/>
<rect x="400.32" y="228.50" width="2.30" height="2.00" fill="#a00000"/>
<rect x="400.32" y="230.50" width="2.30" height="1.80" fill="#000090"/>
<rect x="400.32" y="232.30" width="2.30" height="1.60" fill="#00c000"/>
<rect x="400.32" y="233.90" width="2.30" height="29.40" fill="#ff0000"/>
<rect x="400.32" y="263.30" width="2.30" height="33.00" fill="#0000ff"/>
<rect x="404.05" y="190.70" width="2.30" height="49.10" fill="#5a5a5a"/>
<rect x="404.05" y="239.80" width="2.30" height="2.70" fill="#a00000"/>
<rect x="404.05" y="242.50" width="2.30" height="2.50" fill="#000090"/>
<rect x="404.05" y="245.00" width="2.30" height="2.50" fill="#000000"/>
<rect x="404.05" y="247.50" width="2.30" height="2.40" fill="#ff8000"/>
<rect x="404.05" y="249.90" width="2.30" height="2.70" fill="#a000f0"/>
<rect x="404.05" y="252.60" width="2.30" height="5.00" fill="#00c000"/>
<rect x="404.05" y="257.60" width="2.30" height="6.90" fill="#ff0000"/>
<rect x="404.05" y="264.50" width="2.30" height="31.80" fill="#0000ff"/>
<rect x="407.77" y="190.70" width="2.30" height="62.40" fill="#5a5a5a"/>
<rect x="407.77" y="253.10" width="2.30" height="2.40" fill="#a00000"/>
<rect x="407.77" y="255.50" width="2.30" height="3.10" fill="#000090"/>
<rect x="407.77" y="258.60" width="2.30" height="1.90" fill="#000000"/>
<rect x="407.77" y="260.50" width="2.30" height="2.20" fill="#ff8000"/>
<rect x="407.77" y="262.70" width="2.30" height="2.40" fill="#a000f0"/>
<rect x="407.77" y="265.10" width="2.30" height="2.60" fill="#00c000"/>
<rect x="407.77" y="267.70" width="2.30" height="2.80" fill="#ff0000"/>
<rect x="407.77" y="270.50" width="2.30" height="25.80" fill="#0000ff"/>
<rect x="411.50" y="190.70" width="2.30" height="47.30" fill="#5a5a5a"/>
<rect x="411.50" y="238.00" width="2.30" height="3.60" fill="#a00000"/>
<rect x="411.50" y="241.60" width="2.30" height="2.90" fill="#600060"/>
<rect x="411.50" y="244.50" width="2.30" height="4.20" fill="#000090"/>
<rect x="411.50" y="248.70" width="2.30" height="3.00" fill="#a0661e"/>
<rect x="411.50" y="251.70" width="2.30" height="4.50" fill="#000000"/>
<rect x="411.50" y="256.20" width="2.30" height="4.90" fill="#ff8000"/>
<rect x="411.50" y="261.10" width="2.30" height="6.60" fill="#a000f0"/>
<rect x="411.50" y="267.70" width="2.30" height="6.30" fill="#00c000"/>
<rect x="411.50" y="274.00" width="2.30" height="7.70" fill="#ff0000"/>
<rect x="411.50" y="281.70" width="2.30" height="14.60" fill="#0000ff"/>
<rect x="415.23" y="190.70" width="2.30" height="66.90" fill="#5a5a5a"/>
<rect x="415.23" y="257.60" width="2.30" height="1.90" fill="#a00000"/>
<rect x="415.23" y="259.50" width="2.30" height="2.00" fill="#000090"/>
<rect x="415.23" y="261.50" width="2.30" height="2.50" fill="#000000"/>
<rect x="415.23" y="264.00" width="2.30" height="1.70" fill="#ff8000"/>
<rect x="415.23" y="265.70" width="2.30" height="4.20" fill="#a000f0"/>
<rect x="415.23" y="269.90" width="2.30" height="4.50" fill="#00c000"/>
<rect x="415.23" y="274.40" width="2.30" height="9.10" fill="#ff0000"/>
<rect x="415.23" y="283.50" width="2.30" height="12.80" fill="#0000ff"/>
<rect x="418.95" y="190.70" width="2.30" height="75.00" fill="#5a5a5a"/>
<rect x="418.95" y="265.70" width="2.30" height="1.80" fill="#a00000"/>
<rect x="418.95" y="267.50" width="2.30" height="1.80" fill="#000090"/>
<rect x="418.95" y="269.30" width="2.30" height="2.30" fill="#000000"/>
<rect x="418.95" y="271.60" width="2.30" height="1.20" fill="#ff8000"/>
<rect x="418.95" y="272.80" width="2.30" height="3.00" fill="#a000f0"/>
<rect x="418.95" y="275.80" width="2.30" height="4.20" fill="#00c000"/>
<rect x="418.95" y="280.00" width="2.30" height="3.90" fill="#ff0000"/>
<rect x="418.95" y="283.90" width="2.30" height="12.40" fill="#0000ff"/>
<rect x="422.68" y="190.70" width="2.30" height="76.20" fill="#5a5a5a"/>
<rect x="422.68" y="266.90" width="2.30" height="1.60" fill="#a00000"/>
<rect x="422.68" y="268.50" width="2.30" height="3.10" fill="#000090"/>
<rect x="422.68" y="271.60" width="2.30" height="1.80" fill="#000000"/>
<rect x="422.68" y="273.40" width="2.30" height="1.60" fill="#ff8000"/>
<rect x="422.68" y="275.00" width="2.30" height="2.60" fill="#a000f0"/>
<rect x="422.68" y="277.60" width="2.30" height="2.90" fill="#00c000"/>
<rect x="422.68" y="280.50" width="2.30" height="5.00" fill="#ff0000"/>
<rect x="422.68" y="285.50" width="2.30" height="10.80" fill="#0000ff"/>
<rect x="426.41" y="190.70" width="2.30" height="72.60" fill="#5a5a5a"/>
<rect x="426.41" y="263.30" width="2.30" height="1.70" fill="#a00000"/>
<rect x="426.41" y="265.00" width="2.30" height="2.50" fill="#000090"/>
<rect x="426.41" y="267.50" width="2.30" height="2.50" fill="#000000"/>
<rect x="426.41" y="270.00" width="2.30" height="1.60" fill="#ff8000"/>
<rect x="426.41" y="271.60" width="2.30" height="3.20" fill="#a000f0"/>
<rect x="426.41" y="274.80" width="2.30" height="3.40" fill="#00c000"/>
<rect x="426.41" y="278.20" width="2.30" height="7.70" fill="#ff0000"/>
<rect x="426.41" y="285.90" width="2.30" height="10.40" fill="#0000ff"/>
<rect x="430.13" y="190.70" width="2.30" height="79.20" fill="#5a5a5a"/>
<rect x="430.13" y="269.90" width="2.30" height="1.60" fill="#a00000"/>
<rect x="430.13" y="271.50" width="2.30" height="2.50" fill="#000090"/>
<rect x="430.13" y="274.00" width="2.30" height="2.70" fill="#000000"/>
<rect x="430.13" y="276.70" width="2.30" height="2.10" fill="#ff8000"/>
<rect x="430.13" y="278.80" width="2.30" height="2.00" fill="#a000f0"/>
<rect x="430.13" y="280.80" width="2.30" height="3.30" fill="#00c000"/>
<rect x="430.13" y="284.10" width="2.30" height="4.10" fill="#ff0000"/>
<rect x="430.13" y="288.20" width="2.30" height="8.10" fill="#0000ff"/>
<rect x="433.86" y="190.70" width="2.30" height="66.30" fill="#5a5a5a"/>
<rect x="433.86" y="257.00" width="2.30" height="2.50" fill="#a00000"/>
<rect x="433.86" y="259.50" width="2.30" height="2.00" fill="#600060"/>
<rect x="433.86" y="261.50" width="2.30" height="2.50" fill="#000090"/>
<rect x="433.86" y="264.00" width="2.30" height="2.90" fill="#a0661e"/>
<rect x="433.86" y="266.90" width="2.30" height="3.00" fill="#000000"/>
<rect x="433.86" y="269.90" width="2.30" height="3.50" fill="#ff8000"/>
<rect x="433.86" y="273.40" width="2.30" height="5.40" fill="#a000f0"/>
<rect x="433.86" y="278.80" width="2.30" height="4.70" fill="#00c000"/>
<rect x="433.86" y="283.50" width="2.30" height="5.30" fill="#ff0000"/>
<rect x="433.86" y="288.80" width="2.30" height="7.50" fill="#0000ff"/>
<rect x="437.59" y="190.70" width="2.30" height="92.20" fill="#5a5a5a"/>
<rect x="437.59" y="282.90" width="2.30" height="1.60" fill="#a00000"/>
<rect x="437.59" y="284.50" width="2.30" height="1.40" fill="#000090"/>
<rect x="437.59" y="285.90" width="2.30" height="1.20" fill="#ff8000"/>
<rect x="437.59" y="287.10" width="2.30" height="1.10" fill="#00c000"/>
<rect x="437.59" y="288.20" width="2.30" height="1.80" fill="#ff0000"/>
<rect x="437.59" y="290.00" width="2.30" height="6.30" fill="#0000ff"/>
<rect x="441.32" y="190.70" width="2.30" height="65.10" fill="#5a5a5a"/>
<rect x="441.32" y="255.80" width="2.30" height="2.40" fill="#a00000"/>
<rect x="441.32" y="258.20" width="2.30" height="2.30" fill="#600060"/>
<rect x="441.32" y="260.50" width="2.30" height="3.50" fill="#000090"/>
<rect x="441.32" y="264.00" width="2.30" height="3.50" fill="#a0661e"/>
<rect x="441.32" y="267.50" width="2.30" height="3.50" fill="#000000"/>
<rect x="441.32" y="271.00" width="2.30" height="4.20" fill="#ff8000"/>
<rect x="441.32" y="275.20" width="2.30" height="4.80" fill="#a000f0"/>
<rect x="441.32" y="280.00" width="2.30" height="5.30" fill="#00c000"/>
<rect x="441.32" y="285.30" width="2.30" height="5.30" fill="#ff0000"/>
<rect x="441.32" y="290.60" width="2.30" height="5.70" fill="#0000ff"/>
<rect x="445.04" y="190.70" width="2.30" height="83.30" fill="#5a5a5a"/>
<rect x="445.04" y="274.00" width="2.30" height="1.80" fill="#a00000"/>
<rect x="445.04" y="275.80" width="2.30" height="2.40" fill="#000090"/>
<rect x="445.04" y="278.20" width="2.30" height="2.90" fill="#000000"/>
<rect x="445.04" y="281.10" width="2.30" height="2.40" fill="#ff8000"/>
<rect x="445.04" y="283.50" width="2.30" height="2.00" fill="#a000f0"/>
<rect x="445.04" y="285.50" width="2.30" height="2.70" fill="#00c000"/>
<rect x="445.04" y="288.20" width="2.30" height="3.60" fill="#ff0000"/>
<rect x="445.04" y="291.80" width="2.30" height="4.50" fill="#0000ff"/>
<rect x="448.77" y="190.70" width="2.30" height="87.50" fill="#5a5a5a"/>
<rect x="448.77" y="278.20" width="2.30" height="1.30" fill="#a00000"/>
<rect x="448.77" y="279.50" width="2.30" height="2.20" fill="#000090"/>
<rect x="448.77" y="281.70" width="2.30" height="1.80" fill="#000000"/>
<rect x="448.77" y="283.50" width="2.30" height="2.00" fill="#ff8000"/>
<rect x="448.77" y="285.50" width="2.30" height="2.20" fill="#a000f0"/>
<rect x="448.77" y="287.70" width="2.30" height="2.10" fill="#00c000"/>
<rect x="448.77" y="289.80" width="2.30" height="2.00" fill="#ff0000"/>
<rect x="448.77" y="291.80" width="2.30" height="4.50" fill="#0000ff"/>
<rect x="452.50" y="190.70" width="2.30" height="83.30" fill="#5a5a5a"/>
<rect x="452.50" y="274.00" width="2.30" height="2.00" fill="#a00000"/>
<rect x="452.50" y="276.00" width="2.30" height="3.40" fill="#000090"/>
<rect x="452.50" y="279.40" width="2.30" height="3.50" fill="#000000"/>
<rect x="452.50" y="282.90" width="2.30" height="1.80" fill="#ff8000"/>
<rect x="452.50" y="284.70" width="2.30" height="2.70" fill="#a000f0"/>
<rect x="452.50" y="287.40" width="2.30" height="2.40" fill="#00c000"/>
<rect x="452.50" y="289.80" width="2.30" height="2.80" fill="#ff0000"/>
<rect x="452.50" y="292.60" width="2.30" height="3.70" fill="#0000ff"/>
<rect x="456.22" y="190.70" width="2.30" height="76.20" fill="#5a5a5a"/>
<rect x="456.22" y="266.90" width="2.30" height="3.10" fill="#a00000"/>
<rect x="456.22" y="270.00" width="2.30" height="3.40" fill="#000090"/>
<rect x="456.22" y="273.40" width="2.30" height="4.20" fill="#000000"/>
<rect x="456.22" y="277.60" width="2.30" height="4.10" fill="#ff8000"/>
<rect x="456.22" y="281.70" width="2.30" height="3.80" fill="#a000f0"/>
<rect x="456.22" y="285.50" width="2.30" height="3.60" fill="#00c000"/>
<rect x="456.22" y="289.10" width="2.30" height="3.90" fill="#ff0000"/>
<rect x="456.22" y="293.00" width="2.30" height="3.30" fill="#0000ff"/>
<rect x="459.95" y="190.70" width="2.30" height="82.10" fill="#5a5a5a"/>
<rect x="459.95" y="272.80" width="2.30" height="2.20" fill="#a00000"/>
<rect x="459.95" y="275.00" width="2.30" height="5.00" fill="#000090"/>
<rect x="459.95" y="280.00" width="2.30" height="2.90" fill="#000000"/>
<rect x="459.95" y="282.90" width="2.30" height="1.80" fill="#ff8000"/>
<rect x="459.95" y="284.70" width="2.30" height="2.40" fill="#a000f0"/>
<rect x="459.95" y="287.10" width="2.30" height="2.90" fill="#00c000"/>
<rect x="459.95" y="290.00" width="2.30" height="3.00" fill="#ff0000"/>
<rect x="459.95" y="293.00" width="2.30" height="3.30" fill="#0000ff"/>
<rect x="463.68" y="190.70" width="2.30" height="91.00" fill="#5a5a5a"/>
<rect x="463.68" y="281.70" width="2.30" height="1.70" fill="#a00000"/>
<rect x="463.68" y="283.40" width="2.30" height="1.30" fill="#000090"/>
<rect x="463.68" y="284.70" width="2.30" height="2.40" fill="#000000"/>
<rect x="463.68" y="287.10" width="2.30" height="1.70" fill="#ff8000"/>
<rect x="463.68" y="288.80" width="2.30" height="1.20" fill="#a000f0"/>
<rect x="463.68" y="290.00" width="2.30" height="1.40" fill="#00c000"/>
<rect x="463.68" y="291.40" width="2.30" height="2.00" fill="#ff0000"/>
<rect x="463.68" y="293.40" width="2.30" height="2.90" fill="#0000ff"/>
<rect x="467.40" y="190.70" width="2.30" height="96.40" fill="#5a5a5a"/>
<rect x="467.40" y="287.10" width="2.30" height="1.40" fill="#a00000"/>
<rect x="467.40" y="288.50" width="2.30" height="1.50" fill="#000090"/>
<rect x="467.40" y="290.00" width="2.30" height="1.80" fill="#ff8000"/>
<rect x="467.40" y="291.80" width="2.30" height="1.20" fill="#00c000"/>
<rect x="467.40" y="293.00" width="2.30" height="1.50" fill="#ff0000"/>
<rect x="467.40" y="294.50" width="2.30" height="1.80" fill="#0000ff"/>
<rect x="471.13" y="190.70" width="2.30" height="98.70" fill="#5a5a5a"/>
<rect x="471.13" y="289.40" width="2.30" height="1.30" fill="#a00000"/>
<rect x="471.13" y="290.70" width="2.30" height="1.10" fill="#000090"/>
<rect x="471.13" y="291.80" width="2.30" height="1.80" fill="#ff8000"/>
<rect x="471.13" y="293.60" width="2.30" height="1.40" fill="#ff0000"/>
<rect x="471.13" y="295.00" width="2.30" height="1.30" fill="#0000ff"/>
<rect x="474.86" y="190.70" width="2.30" height="94.30" fill="#5a5a5a"/>
<rect x="474.86" y="285.00" width="2.30" height="1.50" fill="#a00000"/>
<rect x="474.86" y="286.50" width="2.30" height="1.70" fill="#000090"/>
<rect x="474.86" y="288.20" width="2.30" height="1.80" fill="#000000"/>
<rect x="474.86" y="290.00" width="2.30" height="1.20" fill="#ff8000"/>
<rect x="474.86" y="291.20" width="2.30" height="1.20" fill="#a000f0"/>
<rect x="474.86" y="292.40" width="2.30" height="1.20" fill="#00c000"/>
<rect x="474.86" y="293.60" width="2.30" height="1.40" fill="#ff0000"/>
<rect x="474.86" y="295.00" width="2.30" height="1.30" fill="#0000ff"/>
<rect x="37.1" y="188.8" width="1.2" height="108.0" fill="#606050"/>
<rect x="37.0" y="295.8" width="442.0" height="1.1" fill="#111"/>
<rect x="39.45" y="296.9" width="1" height="1.9" fill="#555"/>
<rect x="43.18" y="296.9" width="1" height="1.9" fill="#555"/>
<rect x="46.90" y="296.9" width="1" height="1.9" fill="#555"/>
<rect x="50.63" y="296.9" width="1" height="1.9" fill="#555"/>
<rect x="54.36" y="296.9" width="1" height="1.9" fill="#555"/>
<rect x="58.09" y="296.9" width="1" height="1.9" fill="#555"/>
<rect x="61.81" y="296.9" width="1" height="1.9" fill="#555"/>
<rect x="65.54" y="296.9" width="1" height="1.9" fill="#555"/>
<rect x="69.27" y="296.9" width="1" height="1.9" fill="#555"/>
<rect x="72.99" y="296.9" width="1" height="1.9" fill="#555"/>
<rect x="76.72" y="296.9" width="1" height="1.9" fill="#555"/>
<rect x="80.45" y="296.9" width="1" height="1.9" fill="#555"/>
<rect x="84.17" y="296.9" width="1" height="1.9" fill="#555"/>
<rect x="87.90" y="296.9" width="1" height="1.9" fill="#555"/>
<rect x="91.63" y="296.9" width="1" height="1.9" fill="#555"/>
<rect x="95.36" y="296.9" width="1" height="1.9" fill="#555"/>
<rect x="99.08" y="296.9" width="1" height="1.9" fill="#555"/>
<rect x="102.81" y="296.9" width="1" height="1.9" fill="#555"/>
<rect x="106.54" y="296.9" width="1" height="1.9" fill="#555"/>
<rect x="110.26" y="296.9" width="1" height="1.9" fill="#555"/>
<rect x="113.99" y="296.9" width="1" height="1.9" fill="#555"/>
<rect x="117.72" y="296.9" width="1" height="1.9" fill="#555"/>
<rect x="121.44" y="296.9" width="1" height="1.9" fill="#555"/>
<rect x="125.17" y="296.9" width="1" height="1.9" fill="#555"/>
<rect x="128.90" y="296.9" width="1" height="1.9" fill="#555"/>
<rect x="132.62" y="296.9" width="1" height="1.9" fill="#555"/>
<rect x="136.35" y="296.9" width="1" height="1.9" fill="#555"/>
<rect x="140.08" y="296.9" width="1" height="1.9" fill="#555"/>
<rect x="143.81" y="296.9" width="1" height="1.9" fill="#555"/>
<rect x="147.53" y="296.9" width="1" height="1.9" fill="#555"/>
<rect x="151.26" y="296.9" width="1" height="1.9" fill="#555"/>
<rect x="154.99" y="296.9" width="1" height="1.9" fill="#555"/>
<rect x="158.71" y="296.9" width="1" height="1.9" fill="#555"/>
<rect x="162.44" y="296.9" width="1" height="1.9" fill="#555"/>
<rect x="166.17" y="296.9" width="1" height="1.9" fill="#555"/>
<rect x="169.89" y="296.9" width="1" height="1.9" fill="#555"/>
<rect x="173.62" y="296.9" width="1" height="1.9" fill="#555"/>
<rect x="177.35" y="296.9" width="1" height="1.9" fill="#555"/>
<rect x="181.08" y="296.9" width="1" height="1.9" fill="#555"/>
<rect x="184.80" y="296.9" width="1" height="1.9" fill="#555"/>
<rect x="188.53" y="296.9" width="1" height="1.9" fill="#555"/>
<rect x="192.26" y="296.9" width="1" height="1.9" fill="#555"/>
<rect x="195.98" y="296.9" width="1" height="1.9" fill="#555"/>
<rect x="199.71" y="296.9" width="1" height="1.9" fill="#555"/>
<rect x="203.44" y="296.9" width="1" height="1.9" fill="#555"/>
<rect x="207.17" y="296.9" width="1" height="1.9" fill="#555"/>
<rect x="210.89" y="296.9" width="1" height="1.9" fill="#555"/>
<rect x="214.62" y="296.9" width="1" height="1.9" fill="#555"/>
<rect x="218.35" y="296.9" width="1" height="1.9" fill="#555"/>
<rect x="222.07" y="296.9" width="1" height="1.9" fill="#555"/>
<rect x="225.80" y="296.9" width="1" height="1.9" fill="#555"/>
<rect x="229.53" y="296.9" width="1" height="1.9" fill="#555"/>
<rect x="233.25" y="296.9" width="1" height="1.9" fill="#555"/>
<rect x="236.98" y="296.9" width="1" height="1.9" fill="#555"/>
<rect x="240.71" y="296.9" width="1" height="1.9" fill="#555"/>
<rect x="244.44" y="296.9" width="1" height="1.9" fill="#555"/>
<rect x="248.16" y="296.9" width="1" height="1.9" fill="#555"/>
<rect x="251.89" y="296.9" width="1" height="1.9" fill="#555"/>
<rect x="255.62" y="296.9" width="1" height="1.9" fill="#555"/>
<rect x="259.34" y="296.9" width="1" height="1.9" fill="#555"/>
<rect x="263.07" y="296.9" width="1" height="1.9" fill="#555"/>
<rect x="266.80" y="296.9" width="1" height="1.9" fill="#555"/>
<rect x="270.52" y="296.9" width="1" height="1.9" fill="#555"/>
<rect x="274.25" y="296.9" width="1" height="1.9" fill="#555"/>
<rect x="277.98" y="296.9" width="1" height="1.9" fill="#555"/>
<rect x="281.70" y="296.9" width="1" height="1.9" fill="#555"/>
<rect x="285.43" y="296.9" width="1" height="1.9" fill="#555"/>
<rect x="289.16" y="296.9" width="1" height="1.9" fill="#555"/>
<rect x="292.89" y="296.9" width="1" height="1.9" fill="#555"/>
<rect x="296.61" y="296.9" width="1" height="1.9" fill="#555"/>
<rect x="300.34" y="296.9" width="1" height="1.9" fill="#555"/>
<rect x="304.07" y="296.9" width="1" height="1.9" fill="#555"/>
<rect x="307.79" y="296.9" width="1" height="1.9" fill="#555"/>
<rect x="311.52" y="296.9" width="1" height="1.9" fill="#555"/>
<rect x="315.25" y="296.9" width="1" height="1.9" fill="#555"/>
<rect x="318.97" y="296.9" width="1" height="1.9" fill="#555"/>
<rect x="322.70" y="296.9" width="1" height="1.9" fill="#555"/>
<rect x="326.43" y="296.9" width="1" height="1.9" fill="#555"/>
<rect x="330.16" y="296.9" width="1" height="1.9" fill="#555"/>
<rect x="333.88" y="296.9" width="1" height="1.9" fill="#555"/>
<rect x="337.61" y="296.9" width="1" height="1.9" fill="#555"/>
<rect x="341.34" y="296.9" width="1" height="1.9" fill="#555"/>
<rect x="345.06" y="296.9" width="1" height="1.9" fill="#555"/>
<rect x="348.79" y="296.9" width="1" height="1.9" fill="#555"/>
<rect x="352.52" y="296.9" width="1" height="1.9" fill="#555"/>
<rect x="356.25" y="296.9" width="1" height="1.9" fill="#555"/>
<rect x="359.97" y="296.9" width="1" height="1.9" fill="#555"/>
<rect x="363.70" y="296.9" width="1" height="1.9" fill="#555"/>
<rect x="367.43" y="296.9" width="1" height="1.9" fill="#555"/>
<rect x="371.15" y="296.9" width="1" height="1.9" fill="#555"/>
<rect x="374.88" y="296.9" width="1" height="1.9" fill="#555"/>
<rect x="378.61" y="296.9" width="1" height="1.9" fill="#555"/>
<rect x="382.33" y="296.9" width="1" height="1.9" fill="#555"/>
<rect x="386.06" y="296.9" width="1" height="1.9" fill="#555"/>
<rect x="389.79" y="296.9" width="1" height="1.9" fill="#555"/>
<rect x="393.51" y="296.9" width="1" height="1.9" fill="#555"/>
<rect x="397.24" y="296.9" width="1" height="1.9" fill="#555"/>
<rect x="400.97" y="296.9" width="1" height="1.9" fill="#555"/>
<rect x="404.70" y="296.9" width="1" height="1.9" fill="#555"/>
<rect x="408.42" y="296.9" width="1" height="1.9" fill="#555"/>
<rect x="412.15" y="296.9" width="1" height="1.9" fill="#555"/>
<rect x="415.88" y="296.9" width="1" height="1.9" fill="#555"/>
<rect x="419.60" y="296.9" width="1" height="1.9" fill="#555"/>
<rect x="423.33" y="296.9" width="1" height="1.9" fill="#555"/>
<rect x="427.06" y="296.9" width="1" height="1.9" fill="#555"/>
<rect x="430.78" y="296.9" width="1" height="1.9" fill="#555"/>
<rect x="434.51" y="296.9" width="1" height="1.9" fill="#555"/>
<rect x="438.24" y="296.9" width="1" height="1.9" fill="#555"/>
<rect x="441.97" y="296.9" width="1" height="1.9" fill="#555"/>
<rect x="445.69" y="296.9" width="1" height="1.9" fill="#555"/>
<rect x="449.42" y="296.9" width="1" height="1.9" fill="#555"/>
<rect x="453.15" y="296.9" width="1" height="1.9" fill="#555"/>
<rect x="456.87" y="296.9" width="1" height="1.9" fill="#555"/>
<rect x="460.60" y="296.9" width="1" height="1.9" fill="#555"/>
<rect x="464.33" y="296.9" width="1" height="1.9" fill="#555"/>
<rect x="468.05" y="296.9" width="1" height="1.9" fill="#555"/>
<rect x="471.78" y="296.9" width="1" height="1.9" fill="#555"/>
<rect x="475.51" y="296.9" width="1" height="1.9" fill="#555"/>
<text transform="translate(40.35,301.50) rotate(-45) scale(0.8,1)" font-size="4.8" text-anchor="end" fill="#222" font-weight="normal">ATL001</text>
<text transform="translate(44.08,301.50) rotate(-45) scale(0.8,1)" font-size="4.8" text-anchor="end" fill="#222" font-weight="normal">ATL002</text>
<text transform="translate(47.80,301.50) rotate(-45) scale(0.8,1)" font-size="4.8" text-anchor="end" fill="#222" font-weight="normal">ATL003</text>
<text transform="translate(51.53,301.50) rotate(-45) scale(0.8,1)" font-size="4.8" text-anchor="end" fill="#222" font-weight="normal">ATL004</text>
<text transform="translate(55.26,301.50) rotate(-45) scale(0.8,1)" font-size="4.8" text-anchor="end" fill="#222" font-weight="normal">ATL005</text>
<text transform="translate(58.98,301.50) rotate(-45) scale(0.8,1)" font-size="4.8" text-anchor="end" fill="#222" font-weight="normal">ATL006</text>
<text transform="translate(62.71,301.50) rotate(-45) scale(0.8,1)" font-size="4.8" text-anchor="end" fill="#222" font-weight="normal">ATL007</text>
<text transform="translate(66.44,301.50) rotate(-45) scale(0.8,1)" font-size="4.8" text-anchor="end" fill="#222" font-weight="normal">ATL008</text>
<text transform="translate(70.17,301.50) rotate(-45) scale(0.8,1)" font-size="4.8" text-anchor="end" fill="#222" font-weight="normal">ATL009</text>
<text transform="translate(73.89,301.50) rotate(-45) scale(0.8,1)" font-size="4.8" text-anchor="end" fill="#222" font-weight="normal">ATL010</text>
<text transform="translate(77.62,301.50) rotate(-45) scale(0.8,1)" font-size="4.8" text-anchor="end" fill="#222" font-weight="normal">ATL011</text>
<text transform="translate(81.35,301.50) rotate(-45) scale(0.8,1)" font-size="4.8" text-anchor="end" fill="#222" font-weight="normal">ATL012</text>
<text transform="translate(85.07,301.50) rotate(-45) scale(0.8,1)" font-size="4.8" text-anchor="end" fill="#222" font-weight="normal">ATL013</text>
<text transform="translate(88.80,301.50) rotate(-45) scale(0.8,1)" font-size="4.8" text-anchor="end" fill="#222" font-weight="normal">ATL014</text>
<text transform="translate(92.53,301.50) rotate(-45) scale(0.8,1)" font-size="4.8" text-anchor="end" fill="#222" font-weight="normal">ATL015</text>
<text transform="translate(96.26,301.50) rotate(-45) scale(0.8,1)" font-size="4.8" text-anchor="end" fill="#222" font-weight="normal">ATL016</text>
<text transform="translate(99.98,301.50) rotate(-45) scale(0.8,1)" font-size="4.8" text-anchor="end" fill="#222" font-weight="normal">ATL017</text>
<text transform="translate(103.71,301.50) rotate(-45) scale(0.8,1)" font-size="4.8" text-anchor="end" fill="#222" font-weight="normal">ATL018</text>
<text transform="translate(107.44,301.50) rotate(-45) scale(0.8,1)" font-size="4.8" text-anchor="end" fill="#222" font-weight="normal">ATL019</text>
<text transform="translate(111.16,301.50) rotate(-45) scale(0.8,1)" font-size="4.8" text-anchor="end" fill="#222" font-weight="normal">ATL020</text>
<text transform="translate(114.89,301.50) rotate(-45) scale(0.8,1)" font-size="4.8" text-anchor="end" fill="#222" font-weight="normal">ATL021</text>
<text transform="translate(118.62,301.50) rotate(-45) scale(0.8,1)" font-size="4.8" text-anchor="end" fill="#222" font-weight="normal">ATL022</text>
<text transform="translate(122.34,301.50) rotate(-45) scale(0.8,1)" font-size="4.8" text-anchor="end" fill="#222" font-weight="normal">ATL023</text>
<text transform="translate(126.07,301.50) rotate(-45) scale(0.8,1)" font-size="4.8" text-anchor="end" fill="#222" font-weight="normal">ATL024</text>
<text transform="translate(129.80,301.50) rotate(-45) scale(0.8,1)" font-size="4.8" text-anchor="end" fill="#222" font-weight="normal">ATL025</text>
<text transform="translate(133.53,301.50) rotate(-45) scale(0.8,1)" font-size="4.8" text-anchor="end" fill="#222" font-weight="normal">ATL026</text>
<text transform="translate(137.25,301.50) rotate(-45) scale(0.8,1)" font-size="4.8" text-anchor="end" fill="#222" font-weight="normal">ATL027</text>
<text transform="translate(140.98,301.50) rotate(-45) scale(0.8,1)" font-size="4.8" text-anchor="end" fill="#222" font-weight="normal">ATL028</text>
<text transform="translate(144.71,301.50) rotate(-45) scale(0.8,1)" font-size="4.8" text-anchor="end" fill="#222" font-weight="normal">ATL029</text>
<text transform="translate(148.43,301.50) rotate(-45) scale(0.8,1)" font-size="4.8" text-anchor="end" fill="#222" font-weight="normal">ATL030</text>
<text transform="translate(152.16,301.50) rotate(-45) scale(0.8,1)" font-size="4.8" text-anchor="end" fill="#222" font-weight="normal">ATL031</text>
<text transform="translate(155.89,301.50) rotate(-45) scale(0.8,1)" font-size="4.8" text-anchor="end" fill="#222" font-weight="normal">ATL032</text>
<text transform="translate(159.61,301.50) rotate(-45) scale(0.8,1)" font-size="4.8" text-anchor="end" fill="#222" font-weight="normal">ATL033</text>
<text transform="translate(163.34,301.50) rotate(-45) scale(0.8,1)" font-size="4.8" text-anchor="end" fill="#222" font-weight="normal">ATL034</text>
<text transform="translate(167.07,301.50) rotate(-45) scale(0.8,1)" font-size="4.8" text-anchor="end" fill="#222" font-weight="normal">ATL035</text>
<text transform="translate(170.79,301.50) rotate(-45) scale(0.8,1)" font-size="4.8" text-anchor="end" fill="#222" font-weight="normal">ATL036</text>
<text transform="translate(174.52,301.50) rotate(-45) scale(0.8,1)" font-size="4.8" text-anchor="end" fill="#222" font-weight="normal">ATL037</text>
<text transform="translate(178.25,301.50) rotate(-45) scale(0.8,1)" font-size="4.8" text-anchor="end" fill="#222" font-weight="normal">ATL038</text>
<text transform="translate(181.98,301.50) rotate(-45) scale(0.8,1)" font-size="4.8" text-anchor="end" fill="#222" font-weight="normal">ATL039</text>
<text transform="translate(185.70,301.50) rotate(-45) scale(0.8,1)" font-size="4.8" text-anchor="end" fill="#222" font-weight="normal">ATL040</text>
<text transform="translate(189.43,301.50) rotate(-45) scale(0.8,1)" font-size="4.8" text-anchor="end" fill="#222" font-weight="normal">ATL041</text>
<text transform="translate(193.16,301.50) rotate(-45) scale(0.8,1)" font-size="4.8" text-anchor="end" fill="#222" font-weight="normal">ATL042</text>
<text transform="translate(196.88,301.50) rotate(-45) scale(0.8,1)" font-size="4.8" text-anchor="end" fill="#222" font-weight="normal">ATL043</text>
<text transform="translate(200.61,301.50) rotate(-45) scale(0.8,1)" font-size="4.8" text-anchor="end" fill="#222" font-weight="normal">ATL044</text>
<text transform="translate(204.34,301.50) rotate(-45) scale(0.8,1)" font-size="4.8" text-anchor="end" fill="#222" font-weight="normal">ATL045</text>
<text transform="translate(208.07,301.50) rotate(-45) scale(0.8,1)" font-size="4.8" text-anchor="end" fill="#222" font-weight="normal">ATL046</text>
<text transform="translate(211.79,301.50) rotate(-45) scale(0.8,1)" font-size="4.8" text-anchor="end" fill="#222" font-weight="normal">ATL047</text>
<text transform="translate(215.52,301.50) rotate(-45) scale(0.8,1)" font-size="4.8" text-anchor="end" fill="#222" font-weight="normal">ATL048</text>
<text transform="translate(219.25,301.50) rotate(-45) scale(0.8,1)" font-size="4.8" text-anchor="end" fill="#222" font-weight="normal">ATL049</text>
<text transform="translate(222.97,301.50) rotate(-45) scale(0.8,1)" font-size="4.8" text-anchor="end" fill="#222" font-weight="normal">ATL050</text>
<text transform="translate(226.70,301.50) rotate(-45) scale(0.8,1)" font-size="4.8" text-anchor="end" fill="#222" font-weight="normal">ATL051</text>
<text transform="translate(230.43,301.50) rotate(-45) scale(0.8,1)" font-size="4.8" text-anchor="end" fill="#222" font-weight="normal">ATL052</text>
<text transform="translate(234.15,301.50) rotate(-45) scale(0.8,1)" font-size="4.8" text-anchor="end" fill="#222" font-weight="normal">AL0364</text>
<text transform="translate(237.88,301.50) rotate(-45) scale(0.8,1)" font-size="4.8" text-anchor="end" fill="#222" font-weight="normal">AL0371</text>
<text transform="translate(241.61,301.50) rotate(-45) scale(0.8,1)" font-size="4.8" text-anchor="end" fill="#222" font-weight="normal">AL0378</text>
<text transform="translate(245.34,301.50) rotate(-45) scale(0.8,1)" font-size="4.8" text-anchor="end" fill="#222" font-weight="normal">AL0385</text>
<text transform="translate(249.06,301.50) rotate(-45) scale(0.8,1)" font-size="4.8" text-anchor="end" fill="#222" font-weight="normal">AL0392</text>
<text transform="translate(252.79,301.50) rotate(-45) scale(0.8,1)" font-size="4.8" text-anchor="end" fill="#222" font-weight="normal">AL0399</text>
<text transform="translate(256.52,301.50) rotate(-45) scale(0.8,1)" font-size="4.8" text-anchor="end" fill="#222" font-weight="normal">AL0406</text>
<text transform="translate(260.24,301.50) rotate(-45) scale(0.8,1)" font-size="4.8" text-anchor="end" fill="#222" font-weight="normal">AL0413</text>
<text transform="translate(263.97,301.50) rotate(-45) scale(0.8,1)" font-size="4.8" text-anchor="end" fill="#222" font-weight="normal">AL0420</text>
<text transform="translate(267.70,301.50) rotate(-45) scale(0.8,1)" font-size="4.8" text-anchor="end" fill="#222" font-weight="normal">AL0427</text>
<text transform="translate(271.42,301.50) rotate(-45) scale(0.8,1)" font-size="4.8" text-anchor="end" fill="#222" font-weight="normal">AL0434</text>
<text transform="translate(275.15,301.50) rotate(-45) scale(0.8,1)" font-size="4.8" text-anchor="end" fill="#222" font-weight="normal">AL0441</text>
<text transform="translate(278.88,301.50) rotate(-45) scale(0.8,1)" font-size="4.8" text-anchor="end" fill="#222" font-weight="normal">AL0448</text>
<text transform="translate(282.60,301.50) rotate(-45) scale(0.8,1)" font-size="4.8" text-anchor="end" fill="#222" font-weight="normal">AL0455</text>
<text transform="translate(286.33,301.50) rotate(-45) scale(0.8,1)" font-size="4.8" text-anchor="end" fill="#222" font-weight="normal">AL0462</text>
<text transform="translate(290.06,301.50) rotate(-45) scale(0.8,1)" font-size="4.8" text-anchor="end" fill="#222" font-weight="normal">AL0469</text>
<text transform="translate(293.79,301.50) rotate(-45) scale(0.8,1)" font-size="4.8" text-anchor="end" fill="#222" font-weight="normal">AL0476</text>
<text transform="translate(297.51,301.50) rotate(-45) scale(0.8,1)" font-size="4.8" text-anchor="end" fill="#222" font-weight="normal">AL0483</text>
<text transform="translate(301.24,301.50) rotate(-45) scale(0.8,1)" font-size="4.8" text-anchor="end" fill="#222" font-weight="normal">AL0490</text>
<text transform="translate(304.97,301.50) rotate(-45) scale(0.8,1)" font-size="4.8" text-anchor="end" fill="#222" font-weight="normal">O01</text>
<text transform="translate(308.69,301.50) rotate(-45) scale(0.8,1)" font-size="4.8" text-anchor="end" fill="#222" font-weight="normal">O02</text>
<text transform="translate(312.42,301.50) rotate(-45) scale(0.8,1)" font-size="4.8" text-anchor="end" fill="#222" font-weight="normal">O03</text>
<text transform="translate(316.15,301.50) rotate(-45) scale(0.8,1)" font-size="4.8" text-anchor="end" fill="#222" font-weight="normal">O04</text>
<text transform="translate(319.87,301.50) rotate(-45) scale(0.8,1)" font-size="4.8" text-anchor="end" fill="#222" font-weight="normal">O05</text>
<text transform="translate(323.60,301.50) rotate(-45) scale(0.8,1)" font-size="4.8" text-anchor="end" fill="#222" font-weight="normal">O06</text>
<text transform="translate(327.33,301.50) rotate(-45) scale(0.8,1)" font-size="4.8" text-anchor="end" fill="#222" font-weight="normal">O07</text>
<text transform="translate(331.06,301.50) rotate(-45) scale(0.8,1)" font-size="4.8" text-anchor="end" fill="#222" font-weight="normal">O08</text>
<text transform="translate(334.78,301.50) rotate(-45) scale(0.8,1)" font-size="4.8" text-anchor="end" fill="#222" font-weight="normal">O09</text>
<text transform="translate(338.51,301.50) rotate(-45) scale(0.8,1)" font-size="4.8" text-anchor="end" fill="#222" font-weight="normal">O10</text>
<text transform="translate(342.24,301.50) rotate(-45) scale(0.8,1)" font-size="4.8" text-anchor="end" fill="#222" font-weight="normal">O11</text>
<text transform="translate(345.96,301.50) rotate(-45) scale(0.8,1)" font-size="4.8" text-anchor="end" fill="#222" font-weight="normal">P01</text>
<text transform="translate(349.69,301.50) rotate(-45) scale(0.8,1)" font-size="4.8" text-anchor="end" fill="#222" font-weight="normal">P02</text>
<text transform="translate(353.42,301.50) rotate(-45) scale(0.8,1)" font-size="4.8" text-anchor="end" fill="#222" font-weight="normal">P03</text>
<text transform="translate(357.14,301.50) rotate(-45) scale(0.8,1)" font-size="4.8" text-anchor="end" fill="#222" font-weight="normal">P04</text>
<text transform="translate(360.87,301.50) rotate(-45) scale(0.8,1)" font-size="4.8" text-anchor="end" fill="#222" font-weight="normal">P05</text>
<text transform="translate(364.60,301.50) rotate(-45) scale(0.8,1)" font-size="4.8" text-anchor="end" fill="#222" font-weight="normal">P06</text>
<text transform="translate(368.33,301.50) rotate(-45) scale(0.8,1)" font-size="4.8" text-anchor="end" fill="#222" font-weight="normal">P07</text>
<text transform="translate(372.05,301.50) rotate(-45) scale(0.8,1)" font-size="4.8" text-anchor="end" fill="#222" font-weight="normal">P08</text>
<text transform="translate(375.78,301.50) rotate(-45) scale(0.8,1)" font-size="4.8" text-anchor="end" fill="#222" font-weight="normal">P09</text>
<text transform="translate(379.51,301.50) rotate(-45) scale(0.8,1)" font-size="4.8" text-anchor="end" fill="#222" font-weight="normal">P10</text>
<text transform="translate(383.23,301.50) rotate(-45) scale(0.8,1)" font-size="4.8" text-anchor="end" fill="#222" font-weight="normal">P11</text>
<text transform="translate(386.96,301.50) rotate(-45) scale(0.8,1)" font-size="4.8" text-anchor="end" fill="#222" font-weight="normal">P12</text>
<text transform="translate(390.69,301.50) rotate(-45) scale(0.8,1)" font-size="4.8" text-anchor="end" fill="#222" font-weight="normal">P13</text>
<text transform="translate(394.41,301.50) rotate(-45) scale(0.8,1)" font-size="4.8" text-anchor="end" fill="#222" font-weight="normal">P14</text>
<text transform="translate(398.14,301.50) rotate(-45) scale(0.8,1)" font-size="4.8" text-anchor="end" fill="#222" font-weight="normal">P15</text>
<text transform="translate(401.87,301.50) rotate(-45) scale(0.8,1)" font-size="4.8" text-anchor="end" fill="#222" font-weight="normal">P16</text>
<text transform="translate(405.60,301.50) rotate(-45) scale(0.8,1)" font-size="4.8" text-anchor="end" fill="#222" font-weight="normal">P17</text>
<text transform="translate(409.32,301.50) rotate(-45) scale(0.8,1)" font-size="4.8" text-anchor="end" fill="#222" font-weight="normal">P18</text>
<text transform="translate(413.05,301.50) rotate(-45) scale(0.8,1)" font-size="4.8" text-anchor="end" fill="#222" font-weight="normal">P19</text>
<text transform="translate(416.78,301.50) rotate(-45) scale(0.8,1)" font-size="4.8" text-anchor="end" fill="#222" font-weight="normal">P20</text>
<text transform="translate(420.50,301.50) rotate(-45) scale(0.8,1)" font-size="4.8" text-anchor="end" fill="#222" font-weight="normal">P21</text>
<text transform="translate(424.23,301.50) rotate(-45) scale(0.8,1)" font-size="4.8" text-anchor="end" fill="#222" font-weight="normal">P22</text>
<text transform="translate(427.96,301.50) rotate(-45) scale(0.8,1)" font-size="4.8" text-anchor="end" fill="#222" font-weight="normal">P23</text>
<text transform="translate(431.68,301.50) rotate(-45) scale(0.8,1)" font-size="4.8" text-anchor="end" fill="#222" font-weight="normal">P24</text>
<text transform="translate(435.41,301.50) rotate(-45) scale(0.8,1)" font-size="4.8" text-anchor="end" fill="#222" font-weight="normal">P25</text>
<text transform="translate(439.14,301.50) rotate(-45) scale(0.8,1)" font-size="4.8" text-anchor="end" fill="#222" font-weight="normal">P26</text>
<text transform="translate(442.87,301.50) rotate(-45) scale(0.8,1)" font-size="4.8" text-anchor="end" fill="#222" font-weight="normal">P27</text>
<text transform="translate(446.59,301.50) rotate(-45) scale(0.8,1)" font-size="4.8" text-anchor="end" fill="#222" font-weight="normal">P28</text>
<text transform="translate(450.32,301.50) rotate(-45) scale(0.8,1)" font-size="4.8" text-anchor="end" fill="#222" font-weight="normal">P29</text>
<text transform="translate(454.05,301.50) rotate(-45) scale(0.8,1)" font-size="4.8" text-anchor="end" fill="#222" font-weight="normal">P30</text>
<text transform="translate(457.77,301.50) rotate(-45) scale(0.8,1)" font-size="4.8" text-anchor="end" fill="#222" font-weight="normal">P31</text>
<text transform="translate(461.50,301.50) rotate(-45) scale(0.8,1)" font-size="4.8" text-anchor="end" fill="#222" font-weight="normal">P32</text>
<text transform="translate(465.23,301.50) rotate(-45) scale(0.8,1)" font-size="4.8" text-anchor="end" fill="#222" font-weight="normal">P33</text>
<text transform="translate(468.95,301.50) rotate(-45) scale(0.8,1)" font-size="4.8" text-anchor="end" fill="#222" font-weight="normal">P34</text>
<text transform="translate(472.68,301.50) rotate(-45) scale(0.8,1)" font-size="4.8" text-anchor="end" fill="#222" font-weight="normal">P35</text>
<text transform="translate(476.41,301.50) rotate(-45) scale(0.8,1)" font-size="4.8" text-anchor="end" fill="#222" font-weight="normal">P36</text>
<rect x="29.50" y="315.1" width="202.90" height="1.6" fill="#4a4a4a"/>
<rect x="29.50" y="313.0" width="1.1" height="3.4" fill="#505050"/>
<rect x="231.30" y="313.0" width="1.1" height="3.4" fill="#505050"/>
<rect x="130.40" y="315.7" width="1.1" height="5.8" fill="#333"/>
<text transform="translate(130.90,331.80) scale(0.545,1)" x="0" y="0" font-size="10.1" font-weight="normal" text-anchor="middle" fill="#1a1a1a" stroke="#1a1a1a" stroke-width="0.35">ATCLL</text>
<rect x="234.10" y="315.1" width="68.30" height="1.6" fill="#4a4a4a"/>
<rect x="234.10" y="313.0" width="1.1" height="3.4" fill="#505050"/>
<rect x="301.30" y="313.0" width="1.1" height="3.4" fill="#505050"/>
<rect x="267.90" y="315.7" width="1.1" height="5.8" fill="#333"/>
<text transform="translate(268.40,331.80) scale(0.56,1)" x="0" y="0" font-size="10.1" font-weight="normal" text-anchor="middle" fill="#1a1a1a" stroke="#1a1a1a" stroke-width="0.35">ALCL</text>
<rect x="304.10" y="315.1" width="38.40" height="1.6" fill="#4a4a4a"/>
<rect x="304.10" y="313.0" width="1.1" height="3.4" fill="#505050"/>
<rect x="341.40" y="313.0" width="1.1" height="3.4" fill="#505050"/>
<rect x="322.70" y="315.7" width="1.1" height="5.8" fill="#333"/>
<text transform="translate(323.20,331.80) scale(0.585,1)" x="0" y="0" font-size="10.1" font-weight="normal" text-anchor="middle" fill="#1a1a1a" stroke="#1a1a1a" stroke-width="0.35">Other TCLs</text>
<rect x="344.20" y="315.1" width="132.70" height="1.6" fill="#4a4a4a"/>
<rect x="344.20" y="313.0" width="1.1" height="3.4" fill="#505050"/>
<rect x="475.80" y="313.0" width="1.1" height="3.4" fill="#505050"/>
<rect x="409.30" y="315.7" width="1.1" height="5.8" fill="#333"/>
<text transform="translate(409.80,331.80) scale(0.54,1)" x="0" y="0" font-size="10.1" font-weight="normal" text-anchor="middle" fill="#1a1a1a" stroke="#1a1a1a" stroke-width="0.35">PTCL</text>
<rect x="0" y="0" width="520" height="1.1" fill="#000"/>
<rect x="0" y="0" width="1.1" height="337" fill="#000"/>
<rect x="518.6" y="0" width="1.4" height="337" fill="#000"/>
<rect x="0" y="335.7" width="520" height="1.3" fill="#000"/>
</svg>
</body></html>
